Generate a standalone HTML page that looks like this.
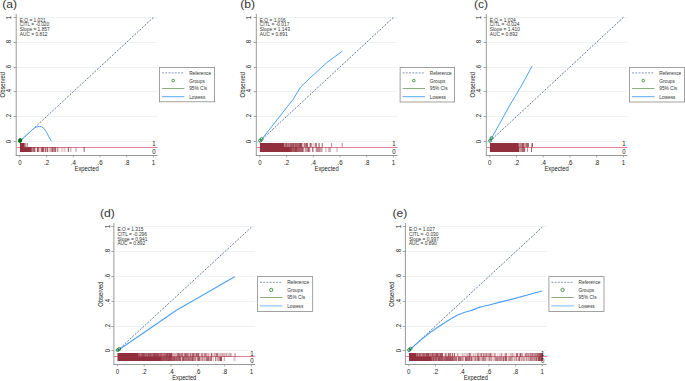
<!DOCTYPE html>
<html><head><meta charset="utf-8"><style>
html,body{margin:0;padding:0;background:#fff;}
svg{display:block;font-family:"Liberation Sans", sans-serif;}
</style></head><body>
<svg width="685" height="381" viewBox="0 0 685 381">
<rect width="685" height="381" fill="#fff"/>
<line x1="16.70" y1="141.50" x2="157.60" y2="141.50" stroke="#edf3f5" stroke-width="1"/>
<line x1="16.70" y1="116.50" x2="157.60" y2="116.50" stroke="#edf3f5" stroke-width="1"/>
<line x1="16.70" y1="91.50" x2="157.60" y2="91.50" stroke="#edf3f5" stroke-width="1"/>
<line x1="16.70" y1="67.50" x2="157.60" y2="67.50" stroke="#edf3f5" stroke-width="1"/>
<line x1="16.70" y1="42.50" x2="157.60" y2="42.50" stroke="#edf3f5" stroke-width="1"/>
<line x1="16.70" y1="17.50" x2="157.60" y2="17.50" stroke="#edf3f5" stroke-width="1"/>
<line x1="16.20" y1="147.50" x2="157.60" y2="147.50" stroke="#e07f95" stroke-width="1"/>
<rect x="19" y="143.20" width="1" height="3.80" fill="#922f3c" fill-opacity="0.08" shape-rendering="crispEdges"/>
<rect x="20" y="143.20" width="4" height="3.80" fill="#922f3c" fill-opacity="1.00" shape-rendering="crispEdges"/>
<rect x="24" y="143.20" width="1" height="3.80" fill="#922f3c" fill-opacity="0.74" shape-rendering="crispEdges"/>
<rect x="25" y="143.20" width="1" height="3.80" fill="#922f3c" fill-opacity="0.49" shape-rendering="crispEdges"/>
<rect x="26" y="143.20" width="1" height="3.80" fill="#922f3c" fill-opacity="0.32" shape-rendering="crispEdges"/>
<rect x="27" y="143.20" width="1" height="3.80" fill="#922f3c" fill-opacity="0.46" shape-rendering="crispEdges"/>
<rect x="19" y="147.00" width="1" height="4.70" fill="#922f3c" fill-opacity="0.08" shape-rendering="crispEdges"/>
<rect x="20" y="147.00" width="11" height="4.70" fill="#922f3c" fill-opacity="1.00" shape-rendering="crispEdges"/>
<rect x="31" y="147.00" width="1" height="4.70" fill="#922f3c" fill-opacity="0.80" shape-rendering="crispEdges"/>
<rect x="32" y="147.00" width="1" height="4.70" fill="#922f3c" fill-opacity="0.58" shape-rendering="crispEdges"/>
<rect x="33" y="147.00" width="1" height="4.70" fill="#922f3c" fill-opacity="0.69" shape-rendering="crispEdges"/>
<rect x="34" y="147.00" width="1" height="4.70" fill="#922f3c" fill-opacity="0.78" shape-rendering="crispEdges"/>
<rect x="35" y="147.00" width="1" height="4.70" fill="#922f3c" fill-opacity="0.32" shape-rendering="crispEdges"/>
<rect x="36" y="147.00" width="1" height="4.70" fill="#922f3c" fill-opacity="0.15" shape-rendering="crispEdges"/>
<rect x="37" y="147.00" width="1" height="4.70" fill="#922f3c" fill-opacity="0.84" shape-rendering="crispEdges"/>
<rect x="38" y="147.00" width="1" height="4.70" fill="#922f3c" fill-opacity="0.70" shape-rendering="crispEdges"/>
<rect x="39" y="147.00" width="1" height="4.70" fill="#922f3c" fill-opacity="0.27" shape-rendering="crispEdges"/>
<rect x="40" y="147.00" width="1" height="4.70" fill="#922f3c" fill-opacity="0.33" shape-rendering="crispEdges"/>
<rect x="41" y="147.00" width="1" height="4.70" fill="#922f3c" fill-opacity="0.68" shape-rendering="crispEdges"/>
<rect x="42" y="147.00" width="1" height="4.70" fill="#922f3c" fill-opacity="0.88" shape-rendering="crispEdges"/>
<rect x="43" y="147.00" width="1" height="4.70" fill="#922f3c" fill-opacity="0.77" shape-rendering="crispEdges"/>
<rect x="44" y="147.00" width="1" height="4.70" fill="#922f3c" fill-opacity="0.31" shape-rendering="crispEdges"/>
<rect x="45" y="147.00" width="1" height="4.70" fill="#922f3c" fill-opacity="0.75" shape-rendering="crispEdges"/>
<rect x="46" y="147.00" width="1" height="4.70" fill="#922f3c" fill-opacity="0.38" shape-rendering="crispEdges"/>
<rect x="47" y="147.00" width="1" height="4.70" fill="#922f3c" fill-opacity="0.77" shape-rendering="crispEdges"/>
<rect x="48" y="147.00" width="1" height="4.70" fill="#922f3c" fill-opacity="0.22" shape-rendering="crispEdges"/>
<rect x="49" y="147.00" width="1" height="4.70" fill="#922f3c" fill-opacity="0.30" shape-rendering="crispEdges"/>
<rect x="50" y="147.00" width="1" height="4.70" fill="#922f3c" fill-opacity="0.42" shape-rendering="crispEdges"/>
<rect x="51" y="147.00" width="1" height="4.70" fill="#922f3c" fill-opacity="0.51" shape-rendering="crispEdges"/>
<rect x="52" y="147.00" width="1" height="4.70" fill="#922f3c" fill-opacity="0.80" shape-rendering="crispEdges"/>
<rect x="53" y="147.00" width="1" height="4.70" fill="#922f3c" fill-opacity="0.55" shape-rendering="crispEdges"/>
<rect x="54" y="147.00" width="1" height="4.70" fill="#922f3c" fill-opacity="0.64" shape-rendering="crispEdges"/>
<rect x="55" y="147.00" width="1" height="4.70" fill="#922f3c" fill-opacity="0.75" shape-rendering="crispEdges"/>
<rect x="56" y="147.00" width="1" height="4.70" fill="#922f3c" fill-opacity="0.19" shape-rendering="crispEdges"/>
<rect x="57" y="147.00" width="1" height="4.70" fill="#922f3c" fill-opacity="0.48" shape-rendering="crispEdges"/>
<rect x="58" y="147.00" width="1" height="4.70" fill="#922f3c" fill-opacity="0.21" shape-rendering="crispEdges"/>
<rect x="59" y="147.00" width="1" height="4.70" fill="#922f3c" fill-opacity="0.11" shape-rendering="crispEdges"/>
<rect x="60" y="147.00" width="1" height="4.70" fill="#922f3c" fill-opacity="0.06" shape-rendering="crispEdges"/>
<rect x="61" y="147.00" width="1" height="4.70" fill="#922f3c" fill-opacity="0.24" shape-rendering="crispEdges"/>
<rect x="62" y="147.00" width="1" height="4.70" fill="#922f3c" fill-opacity="0.18" shape-rendering="crispEdges"/>
<rect x="63" y="147.00" width="1" height="4.70" fill="#922f3c" fill-opacity="0.16" shape-rendering="crispEdges"/>
<rect x="64" y="147.00" width="1" height="4.70" fill="#922f3c" fill-opacity="0.22" shape-rendering="crispEdges"/>
<rect x="65" y="147.00" width="1" height="4.70" fill="#922f3c" fill-opacity="0.19" shape-rendering="crispEdges"/>
<rect x="67" y="147.00" width="1" height="4.70" fill="#922f3c" fill-opacity="0.21" shape-rendering="crispEdges"/>
<rect x="68" y="147.00" width="1" height="4.70" fill="#922f3c" fill-opacity="0.71" shape-rendering="crispEdges"/>
<rect x="70" y="147.00" width="1" height="4.70" fill="#922f3c" fill-opacity="0.31" shape-rendering="crispEdges"/>
<rect x="71" y="147.00" width="1" height="4.70" fill="#922f3c" fill-opacity="0.17" shape-rendering="crispEdges"/>
<rect x="75" y="147.00" width="1" height="4.70" fill="#922f3c" fill-opacity="0.27" shape-rendering="crispEdges"/>
<rect x="76" y="147.00" width="1" height="4.70" fill="#922f3c" fill-opacity="0.26" shape-rendering="crispEdges"/>
<rect x="83" y="147.00" width="1" height="4.70" fill="#922f3c" fill-opacity="0.29" shape-rendering="crispEdges"/>
<rect x="84" y="147.00" width="1" height="4.70" fill="#922f3c" fill-opacity="0.51" shape-rendering="crispEdges"/>
<text transform="translate(153.95,145.80) scale(1,1.12)" font-size="6.1" text-anchor="middle" fill="#222">1</text>
<text transform="translate(153.95,153.60) scale(1,1.12)" font-size="6.1" text-anchor="middle" fill="#222">0</text>
<line x1="19.85" y1="141.30" x2="153.45" y2="17.35" stroke="#55698a" stroke-width="0.9" stroke-dasharray="2.0 1.4"/>
<polyline points="19.85,141.30 23.86,137.58 27.87,133.86 31.87,130.14 34.55,127.91 37.22,126.67 39.36,126.43 41.63,126.80 43.90,128.41 46.57,132.25 49.24,137.58 51.51,141.30" fill="none" stroke="#4ea1f6" stroke-width="1.0" stroke-linejoin="round"/>
<ellipse cx="20.15" cy="140.50" rx="2.1" ry="2.5" fill="#0b6b1c" transform="rotate(20 20.15 140.50)"/>
<line x1="16.20" y1="14.00" x2="16.20" y2="155.50" stroke="#999" stroke-width="1.0"/>
<line x1="15.70" y1="155.50" x2="157.60" y2="155.50" stroke="#999" stroke-width="1.0"/>
<line x1="13.60" y1="141.50" x2="16.20" y2="141.50" stroke="#909090" stroke-width="0.8"/>
<text transform="translate(11.40,141.50) rotate(-90) scale(1,1.12)" font-size="6.1" text-anchor="middle" fill="#222">0</text>
<line x1="13.60" y1="116.50" x2="16.20" y2="116.50" stroke="#909090" stroke-width="0.8"/>
<text transform="translate(11.40,116.50) rotate(-90) scale(1,1.12)" font-size="6.1" text-anchor="middle" fill="#222">.2</text>
<line x1="13.60" y1="91.50" x2="16.20" y2="91.50" stroke="#909090" stroke-width="0.8"/>
<text transform="translate(11.40,91.50) rotate(-90) scale(1,1.12)" font-size="6.1" text-anchor="middle" fill="#222">.4</text>
<line x1="13.60" y1="67.50" x2="16.20" y2="67.50" stroke="#909090" stroke-width="0.8"/>
<text transform="translate(11.40,67.50) rotate(-90) scale(1,1.12)" font-size="6.1" text-anchor="middle" fill="#222">.6</text>
<line x1="13.60" y1="42.50" x2="16.20" y2="42.50" stroke="#909090" stroke-width="0.8"/>
<text transform="translate(11.40,42.50) rotate(-90) scale(1,1.12)" font-size="6.1" text-anchor="middle" fill="#222">.8</text>
<line x1="13.60" y1="17.50" x2="16.20" y2="17.50" stroke="#909090" stroke-width="0.8"/>
<text transform="translate(11.40,17.50) rotate(-90) scale(1,1.12)" font-size="6.1" text-anchor="middle" fill="#222">1</text>
<line x1="19.85" y1="155.50" x2="19.85" y2="157.40" stroke="#909090" stroke-width="0.8"/>
<text transform="translate(19.85,165.00) scale(1,1.12)" font-size="6.1" text-anchor="middle" fill="#222">0</text>
<line x1="46.57" y1="155.50" x2="46.57" y2="157.40" stroke="#909090" stroke-width="0.8"/>
<text transform="translate(46.57,165.00) scale(1,1.12)" font-size="6.1" text-anchor="middle" fill="#222">.2</text>
<line x1="73.29" y1="155.50" x2="73.29" y2="157.40" stroke="#909090" stroke-width="0.8"/>
<text transform="translate(73.29,165.00) scale(1,1.12)" font-size="6.1" text-anchor="middle" fill="#222">.4</text>
<line x1="100.01" y1="155.50" x2="100.01" y2="157.40" stroke="#909090" stroke-width="0.8"/>
<text transform="translate(100.01,165.00) scale(1,1.12)" font-size="6.1" text-anchor="middle" fill="#222">.6</text>
<line x1="126.73" y1="155.50" x2="126.73" y2="157.40" stroke="#909090" stroke-width="0.8"/>
<text transform="translate(126.73,165.00) scale(1,1.12)" font-size="6.1" text-anchor="middle" fill="#222">.8</text>
<line x1="153.45" y1="155.50" x2="153.45" y2="157.40" stroke="#909090" stroke-width="0.8"/>
<text transform="translate(153.45,165.00) scale(1,1.12)" font-size="6.1" text-anchor="middle" fill="#222">1</text>
<text transform="translate(86.60,170.60) scale(0.88,1)" font-size="6.6" text-anchor="middle" fill="#222">Expected</text>
<text transform="translate(5.00,84.75) rotate(-90) scale(0.9,1)" font-size="6.5" text-anchor="middle" fill="#222">Observed</text>
<text x="19.70" y="21.75" font-size="4.85" fill="#333">E:O = 1.021</text>
<text x="19.70" y="26.45" font-size="4.85" fill="#333">CITL = -0.020</text>
<text x="19.70" y="31.15" font-size="4.85" fill="#333">Slope = 1.857</text>
<text x="19.70" y="35.85" font-size="4.85" fill="#333">AUC = 0.812</text>
<text transform="translate(2.30,7.90) scale(1.05,1)" font-size="11.5" fill="#333">(a)</text>
<rect x="159.50" y="67.50" width="55.10" height="34.30" fill="#fff" stroke="#8a8a8a" stroke-width="0.8"/>
<line x1="162.00" y1="72.90" x2="184.40" y2="72.90" stroke="#6a80a0" stroke-width="0.8" stroke-dasharray="2 1.2"/>
<circle cx="173.20" cy="80.60" r="1.3" fill="none" stroke="#2e8b3a" stroke-width="0.9"/>
<line x1="162.00" y1="88.50" x2="184.40" y2="88.50" stroke="#6e9a5a" stroke-width="0.8"/>
<line x1="162.00" y1="96.70" x2="184.40" y2="96.70" stroke="#4a9ef5" stroke-width="0.9"/>
<text x="189.20" y="74.80" font-size="4.75" fill="#333">Reference</text>
<text x="189.20" y="82.50" font-size="4.75" fill="#333">Groups</text>
<text x="189.20" y="90.40" font-size="4.75" fill="#333">95% CIs</text>
<text x="189.20" y="98.60" font-size="4.75" fill="#333">Lowess</text>
<line x1="256.80" y1="141.50" x2="397.60" y2="141.50" stroke="#edf3f5" stroke-width="1"/>
<line x1="256.80" y1="116.50" x2="397.60" y2="116.50" stroke="#edf3f5" stroke-width="1"/>
<line x1="256.80" y1="91.50" x2="397.60" y2="91.50" stroke="#edf3f5" stroke-width="1"/>
<line x1="256.80" y1="67.50" x2="397.60" y2="67.50" stroke="#edf3f5" stroke-width="1"/>
<line x1="256.80" y1="42.50" x2="397.60" y2="42.50" stroke="#edf3f5" stroke-width="1"/>
<line x1="256.80" y1="17.50" x2="397.60" y2="17.50" stroke="#edf3f5" stroke-width="1"/>
<line x1="256.30" y1="147.50" x2="397.60" y2="147.50" stroke="#e07f95" stroke-width="1"/>
<rect x="259" y="143.20" width="1" height="3.80" fill="#922f3c" fill-opacity="0.07" shape-rendering="crispEdges"/>
<rect x="260" y="143.20" width="23" height="3.80" fill="#922f3c" fill-opacity="1.00" shape-rendering="crispEdges"/>
<rect x="283" y="143.20" width="1" height="3.80" fill="#922f3c" fill-opacity="0.96" shape-rendering="crispEdges"/>
<rect x="284" y="143.20" width="1" height="3.80" fill="#922f3c" fill-opacity="0.64" shape-rendering="crispEdges"/>
<rect x="285" y="143.20" width="1" height="3.80" fill="#922f3c" fill-opacity="0.73" shape-rendering="crispEdges"/>
<rect x="286" y="143.20" width="1" height="3.80" fill="#922f3c" fill-opacity="0.83" shape-rendering="crispEdges"/>
<rect x="287" y="143.20" width="1" height="3.80" fill="#922f3c" fill-opacity="0.65" shape-rendering="crispEdges"/>
<rect x="288" y="143.20" width="1" height="3.80" fill="#922f3c" fill-opacity="0.75" shape-rendering="crispEdges"/>
<rect x="289" y="143.20" width="1" height="3.80" fill="#922f3c" fill-opacity="0.61" shape-rendering="crispEdges"/>
<rect x="290" y="143.20" width="1" height="3.80" fill="#922f3c" fill-opacity="0.80" shape-rendering="crispEdges"/>
<rect x="291" y="143.20" width="1" height="3.80" fill="#922f3c" fill-opacity="0.83" shape-rendering="crispEdges"/>
<rect x="292" y="143.20" width="1" height="3.80" fill="#922f3c" fill-opacity="0.77" shape-rendering="crispEdges"/>
<rect x="293" y="143.20" width="1" height="3.80" fill="#922f3c" fill-opacity="0.86" shape-rendering="crispEdges"/>
<rect x="294" y="143.20" width="1" height="3.80" fill="#922f3c" fill-opacity="0.69" shape-rendering="crispEdges"/>
<rect x="295" y="143.20" width="1" height="3.80" fill="#922f3c" fill-opacity="0.81" shape-rendering="crispEdges"/>
<rect x="296" y="143.20" width="2" height="3.80" fill="#922f3c" fill-opacity="0.78" shape-rendering="crispEdges"/>
<rect x="298" y="143.20" width="1" height="3.80" fill="#922f3c" fill-opacity="0.74" shape-rendering="crispEdges"/>
<rect x="299" y="143.20" width="1" height="3.80" fill="#922f3c" fill-opacity="0.85" shape-rendering="crispEdges"/>
<rect x="300" y="143.20" width="1" height="3.80" fill="#922f3c" fill-opacity="0.93" shape-rendering="crispEdges"/>
<rect x="301" y="143.20" width="1" height="3.80" fill="#922f3c" fill-opacity="0.85" shape-rendering="crispEdges"/>
<rect x="302" y="143.20" width="1" height="3.80" fill="#922f3c" fill-opacity="0.36" shape-rendering="crispEdges"/>
<rect x="303" y="143.20" width="1" height="3.80" fill="#922f3c" fill-opacity="0.31" shape-rendering="crispEdges"/>
<rect x="304" y="143.20" width="1" height="3.80" fill="#922f3c" fill-opacity="0.66" shape-rendering="crispEdges"/>
<rect x="305" y="143.20" width="1" height="3.80" fill="#922f3c" fill-opacity="0.63" shape-rendering="crispEdges"/>
<rect x="306" y="143.20" width="1" height="3.80" fill="#922f3c" fill-opacity="0.82" shape-rendering="crispEdges"/>
<rect x="307" y="143.20" width="1" height="3.80" fill="#922f3c" fill-opacity="0.72" shape-rendering="crispEdges"/>
<rect x="309" y="143.20" width="1" height="3.80" fill="#922f3c" fill-opacity="0.30" shape-rendering="crispEdges"/>
<rect x="310" y="143.20" width="1" height="3.80" fill="#922f3c" fill-opacity="0.77" shape-rendering="crispEdges"/>
<rect x="311" y="143.20" width="1" height="3.80" fill="#922f3c" fill-opacity="0.48" shape-rendering="crispEdges"/>
<rect x="312" y="143.20" width="1" height="3.80" fill="#922f3c" fill-opacity="0.17" shape-rendering="crispEdges"/>
<rect x="313" y="143.20" width="1" height="3.80" fill="#922f3c" fill-opacity="0.19" shape-rendering="crispEdges"/>
<rect x="314" y="143.20" width="1" height="3.80" fill="#922f3c" fill-opacity="0.23" shape-rendering="crispEdges"/>
<rect x="315" y="143.20" width="1" height="3.80" fill="#922f3c" fill-opacity="0.64" shape-rendering="crispEdges"/>
<rect x="316" y="143.20" width="1" height="3.80" fill="#922f3c" fill-opacity="0.62" shape-rendering="crispEdges"/>
<rect x="318" y="143.20" width="1" height="3.80" fill="#922f3c" fill-opacity="0.43" shape-rendering="crispEdges"/>
<rect x="319" y="143.20" width="1" height="3.80" fill="#922f3c" fill-opacity="0.49" shape-rendering="crispEdges"/>
<rect x="321" y="143.20" width="1" height="3.80" fill="#922f3c" fill-opacity="0.21" shape-rendering="crispEdges"/>
<rect x="322" y="143.20" width="1" height="3.80" fill="#922f3c" fill-opacity="0.55" shape-rendering="crispEdges"/>
<rect x="331" y="143.20" width="1" height="3.80" fill="#922f3c" fill-opacity="0.51" shape-rendering="crispEdges"/>
<rect x="332" y="143.20" width="1" height="3.80" fill="#922f3c" fill-opacity="0.09" shape-rendering="crispEdges"/>
<rect x="341" y="143.20" width="1" height="3.80" fill="#922f3c" fill-opacity="0.19" shape-rendering="crispEdges"/>
<rect x="342" y="143.20" width="1" height="3.80" fill="#922f3c" fill-opacity="0.42" shape-rendering="crispEdges"/>
<rect x="259" y="147.00" width="1" height="4.70" fill="#922f3c" fill-opacity="0.15" shape-rendering="crispEdges"/>
<rect x="260" y="147.00" width="30" height="4.70" fill="#922f3c" fill-opacity="1.00" shape-rendering="crispEdges"/>
<rect x="290" y="147.00" width="1" height="4.70" fill="#922f3c" fill-opacity="0.93" shape-rendering="crispEdges"/>
<rect x="291" y="147.00" width="1" height="4.70" fill="#922f3c" fill-opacity="0.92" shape-rendering="crispEdges"/>
<rect x="292" y="147.00" width="1" height="4.70" fill="#922f3c" fill-opacity="0.81" shape-rendering="crispEdges"/>
<rect x="293" y="147.00" width="1" height="4.70" fill="#922f3c" fill-opacity="0.83" shape-rendering="crispEdges"/>
<rect x="294" y="147.00" width="1" height="4.70" fill="#922f3c" fill-opacity="0.82" shape-rendering="crispEdges"/>
<rect x="295" y="147.00" width="1" height="4.70" fill="#922f3c" fill-opacity="0.92" shape-rendering="crispEdges"/>
<rect x="296" y="147.00" width="1" height="4.70" fill="#922f3c" fill-opacity="0.93" shape-rendering="crispEdges"/>
<rect x="297" y="147.00" width="2" height="4.70" fill="#922f3c" fill-opacity="0.79" shape-rendering="crispEdges"/>
<rect x="299" y="147.00" width="1" height="4.70" fill="#922f3c" fill-opacity="0.80" shape-rendering="crispEdges"/>
<rect x="300" y="147.00" width="1" height="4.70" fill="#922f3c" fill-opacity="0.74" shape-rendering="crispEdges"/>
<rect x="301" y="147.00" width="1" height="4.70" fill="#922f3c" fill-opacity="0.80" shape-rendering="crispEdges"/>
<rect x="302" y="147.00" width="1" height="4.70" fill="#922f3c" fill-opacity="0.82" shape-rendering="crispEdges"/>
<rect x="303" y="147.00" width="1" height="4.70" fill="#922f3c" fill-opacity="0.55" shape-rendering="crispEdges"/>
<rect x="304" y="147.00" width="1" height="4.70" fill="#922f3c" fill-opacity="0.20" shape-rendering="crispEdges"/>
<rect x="305" y="147.00" width="2" height="4.70" fill="#922f3c" fill-opacity="0.48" shape-rendering="crispEdges"/>
<rect x="307" y="147.00" width="1" height="4.70" fill="#922f3c" fill-opacity="0.59" shape-rendering="crispEdges"/>
<rect x="308" y="147.00" width="1" height="4.70" fill="#922f3c" fill-opacity="0.79" shape-rendering="crispEdges"/>
<rect x="309" y="147.00" width="1" height="4.70" fill="#922f3c" fill-opacity="0.58" shape-rendering="crispEdges"/>
<rect x="310" y="147.00" width="1" height="4.70" fill="#922f3c" fill-opacity="0.20" shape-rendering="crispEdges"/>
<rect x="312" y="147.00" width="1" height="4.70" fill="#922f3c" fill-opacity="0.66" shape-rendering="crispEdges"/>
<rect x="313" y="147.00" width="1" height="4.70" fill="#922f3c" fill-opacity="0.36" shape-rendering="crispEdges"/>
<rect x="315" y="147.00" width="1" height="4.70" fill="#922f3c" fill-opacity="0.19" shape-rendering="crispEdges"/>
<rect x="316" y="147.00" width="1" height="4.70" fill="#922f3c" fill-opacity="0.59" shape-rendering="crispEdges"/>
<rect x="317" y="147.00" width="1" height="4.70" fill="#922f3c" fill-opacity="0.53" shape-rendering="crispEdges"/>
<rect x="318" y="147.00" width="1" height="4.70" fill="#922f3c" fill-opacity="0.58" shape-rendering="crispEdges"/>
<rect x="319" y="147.00" width="1" height="4.70" fill="#922f3c" fill-opacity="0.54" shape-rendering="crispEdges"/>
<rect x="320" y="147.00" width="2" height="4.70" fill="#922f3c" fill-opacity="0.44" shape-rendering="crispEdges"/>
<rect x="322" y="147.00" width="1" height="4.70" fill="#922f3c" fill-opacity="0.26" shape-rendering="crispEdges"/>
<rect x="325" y="147.00" width="1" height="4.70" fill="#922f3c" fill-opacity="0.23" shape-rendering="crispEdges"/>
<rect x="326" y="147.00" width="1" height="4.70" fill="#922f3c" fill-opacity="0.19" shape-rendering="crispEdges"/>
<rect x="328" y="147.00" width="1" height="4.70" fill="#922f3c" fill-opacity="0.32" shape-rendering="crispEdges"/>
<rect x="329" y="147.00" width="1" height="4.70" fill="#922f3c" fill-opacity="0.39" shape-rendering="crispEdges"/>
<rect x="330" y="147.00" width="1" height="4.70" fill="#922f3c" fill-opacity="0.37" shape-rendering="crispEdges"/>
<rect x="336" y="147.00" width="1" height="4.70" fill="#922f3c" fill-opacity="0.20" shape-rendering="crispEdges"/>
<rect x="337" y="147.00" width="1" height="4.70" fill="#922f3c" fill-opacity="0.23" shape-rendering="crispEdges"/>
<text transform="translate(393.95,145.80) scale(1,1.12)" font-size="6.1" text-anchor="middle" fill="#222">1</text>
<text transform="translate(393.95,153.60) scale(1,1.12)" font-size="6.1" text-anchor="middle" fill="#222">0</text>
<line x1="259.85" y1="141.30" x2="393.45" y2="17.35" stroke="#55698a" stroke-width="0.9" stroke-dasharray="2.0 1.4"/>
<polyline points="259.85,141.30 262.39,138.57 273.21,124.69 286.30,107.96 292.72,100.02 300.60,87.01 309.15,78.83 326.25,63.09 342.41,51.06" fill="none" stroke="#4ea1f6" stroke-width="1.0" stroke-linejoin="round"/>
<circle cx="260.15" cy="140.70" r="1.5" fill="none" stroke="#1a7a2a" stroke-width="0.85"/>
<circle cx="261.62" cy="139.12" r="1.5" fill="none" stroke="#1a7a2a" stroke-width="0.85"/>
<line x1="256.30" y1="14.00" x2="256.30" y2="155.50" stroke="#999" stroke-width="1.0"/>
<line x1="255.80" y1="155.50" x2="397.60" y2="155.50" stroke="#999" stroke-width="1.0"/>
<line x1="253.70" y1="141.50" x2="256.30" y2="141.50" stroke="#909090" stroke-width="0.8"/>
<text transform="translate(251.40,141.50) rotate(-90) scale(1,1.12)" font-size="6.1" text-anchor="middle" fill="#222">0</text>
<line x1="253.70" y1="116.50" x2="256.30" y2="116.50" stroke="#909090" stroke-width="0.8"/>
<text transform="translate(251.40,116.50) rotate(-90) scale(1,1.12)" font-size="6.1" text-anchor="middle" fill="#222">.2</text>
<line x1="253.70" y1="91.50" x2="256.30" y2="91.50" stroke="#909090" stroke-width="0.8"/>
<text transform="translate(251.40,91.50) rotate(-90) scale(1,1.12)" font-size="6.1" text-anchor="middle" fill="#222">.4</text>
<line x1="253.70" y1="67.50" x2="256.30" y2="67.50" stroke="#909090" stroke-width="0.8"/>
<text transform="translate(251.40,67.50) rotate(-90) scale(1,1.12)" font-size="6.1" text-anchor="middle" fill="#222">.6</text>
<line x1="253.70" y1="42.50" x2="256.30" y2="42.50" stroke="#909090" stroke-width="0.8"/>
<text transform="translate(251.40,42.50) rotate(-90) scale(1,1.12)" font-size="6.1" text-anchor="middle" fill="#222">.8</text>
<line x1="253.70" y1="17.50" x2="256.30" y2="17.50" stroke="#909090" stroke-width="0.8"/>
<text transform="translate(251.40,17.50) rotate(-90) scale(1,1.12)" font-size="6.1" text-anchor="middle" fill="#222">1</text>
<line x1="259.85" y1="155.50" x2="259.85" y2="157.40" stroke="#909090" stroke-width="0.8"/>
<text transform="translate(259.85,165.00) scale(1,1.12)" font-size="6.1" text-anchor="middle" fill="#222">0</text>
<line x1="286.57" y1="155.50" x2="286.57" y2="157.40" stroke="#909090" stroke-width="0.8"/>
<text transform="translate(286.57,165.00) scale(1,1.12)" font-size="6.1" text-anchor="middle" fill="#222">.2</text>
<line x1="313.29" y1="155.50" x2="313.29" y2="157.40" stroke="#909090" stroke-width="0.8"/>
<text transform="translate(313.29,165.00) scale(1,1.12)" font-size="6.1" text-anchor="middle" fill="#222">.4</text>
<line x1="340.01" y1="155.50" x2="340.01" y2="157.40" stroke="#909090" stroke-width="0.8"/>
<text transform="translate(340.01,165.00) scale(1,1.12)" font-size="6.1" text-anchor="middle" fill="#222">.6</text>
<line x1="366.73" y1="155.50" x2="366.73" y2="157.40" stroke="#909090" stroke-width="0.8"/>
<text transform="translate(366.73,165.00) scale(1,1.12)" font-size="6.1" text-anchor="middle" fill="#222">.8</text>
<line x1="393.45" y1="155.50" x2="393.45" y2="157.40" stroke="#909090" stroke-width="0.8"/>
<text transform="translate(393.45,165.00) scale(1,1.12)" font-size="6.1" text-anchor="middle" fill="#222">1</text>
<text transform="translate(326.65,170.60) scale(0.88,1)" font-size="6.6" text-anchor="middle" fill="#222">Expected</text>
<text transform="translate(245.10,84.75) rotate(-90) scale(0.9,1)" font-size="6.5" text-anchor="middle" fill="#222">Observed</text>
<text x="259.80" y="21.75" font-size="4.85" fill="#333">E:O = 1.016</text>
<text x="259.80" y="26.45" font-size="4.85" fill="#333">CITL = -0.017</text>
<text x="259.80" y="31.15" font-size="4.85" fill="#333">Slope = 1.143</text>
<text x="259.80" y="35.85" font-size="4.85" fill="#333">AUC = 0.891</text>
<text transform="translate(240.30,7.90) scale(1.05,1)" font-size="11.5" fill="#333">(b)</text>
<rect x="400.10" y="67.50" width="54.50" height="34.50" fill="#fff" stroke="#8a8a8a" stroke-width="0.8"/>
<line x1="402.60" y1="72.90" x2="425.00" y2="72.90" stroke="#6a80a0" stroke-width="0.8" stroke-dasharray="2 1.2"/>
<circle cx="413.80" cy="80.60" r="1.3" fill="none" stroke="#2e8b3a" stroke-width="0.9"/>
<line x1="402.60" y1="88.50" x2="425.00" y2="88.50" stroke="#6e9a5a" stroke-width="0.8"/>
<line x1="402.60" y1="96.70" x2="425.00" y2="96.70" stroke="#4a9ef5" stroke-width="0.9"/>
<text x="429.80" y="74.80" font-size="4.75" fill="#333">Reference</text>
<text x="429.80" y="82.50" font-size="4.75" fill="#333">Groups</text>
<text x="429.80" y="90.40" font-size="4.75" fill="#333">95% CIs</text>
<text x="429.80" y="98.60" font-size="4.75" fill="#333">Lowess</text>
<line x1="486.80" y1="141.50" x2="627.40" y2="141.50" stroke="#edf3f5" stroke-width="1"/>
<line x1="486.80" y1="116.50" x2="627.40" y2="116.50" stroke="#edf3f5" stroke-width="1"/>
<line x1="486.80" y1="91.50" x2="627.40" y2="91.50" stroke="#edf3f5" stroke-width="1"/>
<line x1="486.80" y1="67.50" x2="627.40" y2="67.50" stroke="#edf3f5" stroke-width="1"/>
<line x1="486.80" y1="42.50" x2="627.40" y2="42.50" stroke="#edf3f5" stroke-width="1"/>
<line x1="486.80" y1="17.50" x2="627.40" y2="17.50" stroke="#edf3f5" stroke-width="1"/>
<line x1="486.30" y1="147.50" x2="627.40" y2="147.50" stroke="#e07f95" stroke-width="1"/>
<rect x="489" y="143.20" width="1" height="3.80" fill="#922f3c" fill-opacity="0.04" shape-rendering="crispEdges"/>
<rect x="490" y="143.20" width="28" height="3.80" fill="#922f3c" fill-opacity="1.00" shape-rendering="crispEdges"/>
<rect x="518" y="143.20" width="1" height="3.80" fill="#922f3c" fill-opacity="0.79" shape-rendering="crispEdges"/>
<rect x="519" y="143.20" width="1" height="3.80" fill="#922f3c" fill-opacity="0.56" shape-rendering="crispEdges"/>
<rect x="520" y="143.20" width="1" height="3.80" fill="#922f3c" fill-opacity="0.65" shape-rendering="crispEdges"/>
<rect x="521" y="143.20" width="1" height="3.80" fill="#922f3c" fill-opacity="0.59" shape-rendering="crispEdges"/>
<rect x="522" y="143.20" width="1" height="3.80" fill="#922f3c" fill-opacity="0.88" shape-rendering="crispEdges"/>
<rect x="523" y="143.20" width="1" height="3.80" fill="#922f3c" fill-opacity="0.81" shape-rendering="crispEdges"/>
<rect x="524" y="143.20" width="1" height="3.80" fill="#922f3c" fill-opacity="0.45" shape-rendering="crispEdges"/>
<rect x="525" y="143.20" width="1" height="3.80" fill="#922f3c" fill-opacity="0.51" shape-rendering="crispEdges"/>
<rect x="526" y="143.20" width="2" height="3.80" fill="#922f3c" fill-opacity="0.76" shape-rendering="crispEdges"/>
<rect x="528" y="143.20" width="1" height="3.80" fill="#922f3c" fill-opacity="0.71" shape-rendering="crispEdges"/>
<rect x="531" y="143.20" width="1" height="3.80" fill="#922f3c" fill-opacity="0.39" shape-rendering="crispEdges"/>
<rect x="532" y="143.20" width="1" height="3.80" fill="#922f3c" fill-opacity="0.82" shape-rendering="crispEdges"/>
<rect x="489" y="147.00" width="1" height="4.70" fill="#922f3c" fill-opacity="0.10" shape-rendering="crispEdges"/>
<rect x="490" y="147.00" width="29" height="4.70" fill="#922f3c" fill-opacity="1.00" shape-rendering="crispEdges"/>
<rect x="519" y="147.00" width="1" height="4.70" fill="#922f3c" fill-opacity="0.49" shape-rendering="crispEdges"/>
<rect x="520" y="147.00" width="1" height="4.70" fill="#922f3c" fill-opacity="0.55" shape-rendering="crispEdges"/>
<rect x="521" y="147.00" width="1" height="4.70" fill="#922f3c" fill-opacity="0.56" shape-rendering="crispEdges"/>
<rect x="522" y="147.00" width="1" height="4.70" fill="#922f3c" fill-opacity="0.76" shape-rendering="crispEdges"/>
<rect x="523" y="147.00" width="1" height="4.70" fill="#922f3c" fill-opacity="0.74" shape-rendering="crispEdges"/>
<rect x="524" y="147.00" width="1" height="4.70" fill="#922f3c" fill-opacity="0.77" shape-rendering="crispEdges"/>
<rect x="525" y="147.00" width="1" height="4.70" fill="#922f3c" fill-opacity="0.13" shape-rendering="crispEdges"/>
<rect x="527" y="147.00" width="1" height="4.70" fill="#922f3c" fill-opacity="0.53" shape-rendering="crispEdges"/>
<rect x="531" y="147.00" width="1" height="4.70" fill="#922f3c" fill-opacity="0.77" shape-rendering="crispEdges"/>
<text transform="translate(623.90,145.80) scale(1,1.12)" font-size="6.1" text-anchor="middle" fill="#222">1</text>
<text transform="translate(623.90,153.60) scale(1,1.12)" font-size="6.1" text-anchor="middle" fill="#222">0</text>
<line x1="489.80" y1="141.30" x2="623.40" y2="17.35" stroke="#55698a" stroke-width="0.9" stroke-dasharray="2.0 1.4"/>
<polyline points="489.80,141.30 499.15,124.57 509.84,105.23 521.80,85.03 532.15,66.06" fill="none" stroke="#4ea1f6" stroke-width="1.0" stroke-linejoin="round"/>
<circle cx="490.10" cy="140.70" r="1.5" fill="none" stroke="#1a7a2a" stroke-width="0.85"/>
<circle cx="491.57" cy="138.07" r="1.5" fill="none" stroke="#1a7a2a" stroke-width="0.85"/>
<line x1="486.30" y1="14.00" x2="486.30" y2="155.50" stroke="#999" stroke-width="1.0"/>
<line x1="485.80" y1="155.50" x2="627.40" y2="155.50" stroke="#999" stroke-width="1.0"/>
<line x1="483.70" y1="141.50" x2="486.30" y2="141.50" stroke="#909090" stroke-width="0.8"/>
<text transform="translate(481.40,141.50) rotate(-90) scale(1,1.12)" font-size="6.1" text-anchor="middle" fill="#222">0</text>
<line x1="483.70" y1="116.50" x2="486.30" y2="116.50" stroke="#909090" stroke-width="0.8"/>
<text transform="translate(481.40,116.50) rotate(-90) scale(1,1.12)" font-size="6.1" text-anchor="middle" fill="#222">.2</text>
<line x1="483.70" y1="91.50" x2="486.30" y2="91.50" stroke="#909090" stroke-width="0.8"/>
<text transform="translate(481.40,91.50) rotate(-90) scale(1,1.12)" font-size="6.1" text-anchor="middle" fill="#222">.4</text>
<line x1="483.70" y1="67.50" x2="486.30" y2="67.50" stroke="#909090" stroke-width="0.8"/>
<text transform="translate(481.40,67.50) rotate(-90) scale(1,1.12)" font-size="6.1" text-anchor="middle" fill="#222">.6</text>
<line x1="483.70" y1="42.50" x2="486.30" y2="42.50" stroke="#909090" stroke-width="0.8"/>
<text transform="translate(481.40,42.50) rotate(-90) scale(1,1.12)" font-size="6.1" text-anchor="middle" fill="#222">.8</text>
<line x1="483.70" y1="17.50" x2="486.30" y2="17.50" stroke="#909090" stroke-width="0.8"/>
<text transform="translate(481.40,17.50) rotate(-90) scale(1,1.12)" font-size="6.1" text-anchor="middle" fill="#222">1</text>
<line x1="489.80" y1="155.50" x2="489.80" y2="157.40" stroke="#909090" stroke-width="0.8"/>
<text transform="translate(489.80,165.00) scale(1,1.12)" font-size="6.1" text-anchor="middle" fill="#222">0</text>
<line x1="516.52" y1="155.50" x2="516.52" y2="157.40" stroke="#909090" stroke-width="0.8"/>
<text transform="translate(516.52,165.00) scale(1,1.12)" font-size="6.1" text-anchor="middle" fill="#222">.2</text>
<line x1="543.24" y1="155.50" x2="543.24" y2="157.40" stroke="#909090" stroke-width="0.8"/>
<text transform="translate(543.24,165.00) scale(1,1.12)" font-size="6.1" text-anchor="middle" fill="#222">.4</text>
<line x1="569.96" y1="155.50" x2="569.96" y2="157.40" stroke="#909090" stroke-width="0.8"/>
<text transform="translate(569.96,165.00) scale(1,1.12)" font-size="6.1" text-anchor="middle" fill="#222">.6</text>
<line x1="596.68" y1="155.50" x2="596.68" y2="157.40" stroke="#909090" stroke-width="0.8"/>
<text transform="translate(596.68,165.00) scale(1,1.12)" font-size="6.1" text-anchor="middle" fill="#222">.8</text>
<line x1="623.40" y1="155.50" x2="623.40" y2="157.40" stroke="#909090" stroke-width="0.8"/>
<text transform="translate(623.40,165.00) scale(1,1.12)" font-size="6.1" text-anchor="middle" fill="#222">1</text>
<text transform="translate(556.55,170.60) scale(0.88,1)" font-size="6.6" text-anchor="middle" fill="#222">Expected</text>
<text transform="translate(475.10,84.75) rotate(-90) scale(0.9,1)" font-size="6.5" text-anchor="middle" fill="#222">Observed</text>
<text x="489.80" y="21.75" font-size="4.85" fill="#333">E:O = 1.024</text>
<text x="489.80" y="26.45" font-size="4.85" fill="#333">CITL = -0.024</text>
<text x="489.80" y="31.15" font-size="4.85" fill="#333">Slope = 1.410</text>
<text x="489.80" y="35.85" font-size="4.85" fill="#333">AUC = 0.892</text>
<text transform="translate(474.00,7.90) scale(1.05,1)" font-size="11.5" fill="#333">(c)</text>
<rect x="629.60" y="67.50" width="54.80" height="34.50" fill="#fff" stroke="#8a8a8a" stroke-width="0.8"/>
<line x1="632.10" y1="72.90" x2="654.50" y2="72.90" stroke="#6a80a0" stroke-width="0.8" stroke-dasharray="2 1.2"/>
<circle cx="643.30" cy="80.60" r="1.3" fill="none" stroke="#2e8b3a" stroke-width="0.9"/>
<line x1="632.10" y1="88.50" x2="654.50" y2="88.50" stroke="#6e9a5a" stroke-width="0.8"/>
<line x1="632.10" y1="96.70" x2="654.50" y2="96.70" stroke="#4a9ef5" stroke-width="0.9"/>
<text x="659.30" y="74.80" font-size="4.75" fill="#333">Reference</text>
<text x="659.30" y="82.50" font-size="4.75" fill="#333">Groups</text>
<text x="659.30" y="90.40" font-size="4.75" fill="#333">95% CIs</text>
<text x="659.30" y="98.60" font-size="4.75" fill="#333">Lowess</text>
<line x1="114.40" y1="350.50" x2="255.20" y2="350.50" stroke="#edf3f5" stroke-width="1"/>
<line x1="114.40" y1="326.50" x2="255.20" y2="326.50" stroke="#edf3f5" stroke-width="1"/>
<line x1="114.40" y1="301.50" x2="255.20" y2="301.50" stroke="#edf3f5" stroke-width="1"/>
<line x1="114.40" y1="276.50" x2="255.20" y2="276.50" stroke="#edf3f5" stroke-width="1"/>
<line x1="114.40" y1="251.50" x2="255.20" y2="251.50" stroke="#edf3f5" stroke-width="1"/>
<line x1="114.40" y1="226.50" x2="255.20" y2="226.50" stroke="#edf3f5" stroke-width="1"/>
<line x1="113.90" y1="356.50" x2="255.20" y2="356.50" stroke="#e07f95" stroke-width="1"/>
<rect x="117" y="353.10" width="1" height="3.90" fill="#922f3c" fill-opacity="0.52" shape-rendering="crispEdges"/>
<rect x="118" y="353.10" width="20" height="3.90" fill="#922f3c" fill-opacity="1.00" shape-rendering="crispEdges"/>
<rect x="138" y="353.10" width="1" height="3.90" fill="#922f3c" fill-opacity="0.80" shape-rendering="crispEdges"/>
<rect x="139" y="353.10" width="1" height="3.90" fill="#922f3c" fill-opacity="0.81" shape-rendering="crispEdges"/>
<rect x="140" y="353.10" width="1" height="3.90" fill="#922f3c" fill-opacity="0.69" shape-rendering="crispEdges"/>
<rect x="141" y="353.10" width="1" height="3.90" fill="#922f3c" fill-opacity="0.81" shape-rendering="crispEdges"/>
<rect x="142" y="353.10" width="1" height="3.90" fill="#922f3c" fill-opacity="0.91" shape-rendering="crispEdges"/>
<rect x="143" y="353.10" width="1" height="3.90" fill="#922f3c" fill-opacity="0.89" shape-rendering="crispEdges"/>
<rect x="144" y="353.10" width="1" height="3.90" fill="#922f3c" fill-opacity="0.85" shape-rendering="crispEdges"/>
<rect x="145" y="353.10" width="1" height="3.90" fill="#922f3c" fill-opacity="0.74" shape-rendering="crispEdges"/>
<rect x="146" y="353.10" width="1" height="3.90" fill="#922f3c" fill-opacity="0.77" shape-rendering="crispEdges"/>
<rect x="147" y="353.10" width="1" height="3.90" fill="#922f3c" fill-opacity="0.72" shape-rendering="crispEdges"/>
<rect x="148" y="353.10" width="1" height="3.90" fill="#922f3c" fill-opacity="0.87" shape-rendering="crispEdges"/>
<rect x="149" y="353.10" width="1" height="3.90" fill="#922f3c" fill-opacity="0.81" shape-rendering="crispEdges"/>
<rect x="150" y="353.10" width="1" height="3.90" fill="#922f3c" fill-opacity="0.87" shape-rendering="crispEdges"/>
<rect x="151" y="353.10" width="1" height="3.90" fill="#922f3c" fill-opacity="0.76" shape-rendering="crispEdges"/>
<rect x="152" y="353.10" width="1" height="3.90" fill="#922f3c" fill-opacity="0.73" shape-rendering="crispEdges"/>
<rect x="153" y="353.10" width="1" height="3.90" fill="#922f3c" fill-opacity="0.87" shape-rendering="crispEdges"/>
<rect x="154" y="353.10" width="1" height="3.90" fill="#922f3c" fill-opacity="0.92" shape-rendering="crispEdges"/>
<rect x="155" y="353.10" width="1" height="3.90" fill="#922f3c" fill-opacity="0.88" shape-rendering="crispEdges"/>
<rect x="156" y="353.10" width="2" height="3.90" fill="#922f3c" fill-opacity="0.87" shape-rendering="crispEdges"/>
<rect x="158" y="353.10" width="1" height="3.90" fill="#922f3c" fill-opacity="0.86" shape-rendering="crispEdges"/>
<rect x="159" y="353.10" width="1" height="3.90" fill="#922f3c" fill-opacity="0.73" shape-rendering="crispEdges"/>
<rect x="160" y="353.10" width="1" height="3.90" fill="#922f3c" fill-opacity="0.80" shape-rendering="crispEdges"/>
<rect x="161" y="353.10" width="1" height="3.90" fill="#922f3c" fill-opacity="0.77" shape-rendering="crispEdges"/>
<rect x="162" y="353.10" width="2" height="3.90" fill="#922f3c" fill-opacity="0.69" shape-rendering="crispEdges"/>
<rect x="164" y="353.10" width="2" height="3.90" fill="#922f3c" fill-opacity="0.75" shape-rendering="crispEdges"/>
<rect x="166" y="353.10" width="1" height="3.90" fill="#922f3c" fill-opacity="0.85" shape-rendering="crispEdges"/>
<rect x="167" y="353.10" width="1" height="3.90" fill="#922f3c" fill-opacity="0.91" shape-rendering="crispEdges"/>
<rect x="168" y="353.10" width="1" height="3.90" fill="#922f3c" fill-opacity="0.79" shape-rendering="crispEdges"/>
<rect x="169" y="353.10" width="1" height="3.90" fill="#922f3c" fill-opacity="0.90" shape-rendering="crispEdges"/>
<rect x="170" y="353.10" width="1" height="3.90" fill="#922f3c" fill-opacity="0.92" shape-rendering="crispEdges"/>
<rect x="171" y="353.10" width="1" height="3.90" fill="#922f3c" fill-opacity="0.91" shape-rendering="crispEdges"/>
<rect x="172" y="353.10" width="1" height="3.90" fill="#922f3c" fill-opacity="0.48" shape-rendering="crispEdges"/>
<rect x="173" y="353.10" width="2" height="3.90" fill="#922f3c" fill-opacity="0.40" shape-rendering="crispEdges"/>
<rect x="175" y="353.10" width="2" height="3.90" fill="#922f3c" fill-opacity="0.39" shape-rendering="crispEdges"/>
<rect x="177" y="353.10" width="1" height="3.90" fill="#922f3c" fill-opacity="0.62" shape-rendering="crispEdges"/>
<rect x="178" y="353.10" width="1" height="3.90" fill="#922f3c" fill-opacity="0.77" shape-rendering="crispEdges"/>
<rect x="179" y="353.10" width="1" height="3.90" fill="#922f3c" fill-opacity="0.73" shape-rendering="crispEdges"/>
<rect x="180" y="353.10" width="1" height="3.90" fill="#922f3c" fill-opacity="0.54" shape-rendering="crispEdges"/>
<rect x="181" y="353.10" width="1" height="3.90" fill="#922f3c" fill-opacity="0.63" shape-rendering="crispEdges"/>
<rect x="182" y="353.10" width="1" height="3.90" fill="#922f3c" fill-opacity="0.71" shape-rendering="crispEdges"/>
<rect x="183" y="353.10" width="1" height="3.90" fill="#922f3c" fill-opacity="0.33" shape-rendering="crispEdges"/>
<rect x="184" y="353.10" width="1" height="3.90" fill="#922f3c" fill-opacity="0.64" shape-rendering="crispEdges"/>
<rect x="185" y="353.10" width="1" height="3.90" fill="#922f3c" fill-opacity="0.77" shape-rendering="crispEdges"/>
<rect x="186" y="353.10" width="1" height="3.90" fill="#922f3c" fill-opacity="0.70" shape-rendering="crispEdges"/>
<rect x="187" y="353.10" width="1" height="3.90" fill="#922f3c" fill-opacity="0.69" shape-rendering="crispEdges"/>
<rect x="188" y="353.10" width="1" height="3.90" fill="#922f3c" fill-opacity="0.54" shape-rendering="crispEdges"/>
<rect x="189" y="353.10" width="1" height="3.90" fill="#922f3c" fill-opacity="0.38" shape-rendering="crispEdges"/>
<rect x="190" y="353.10" width="1" height="3.90" fill="#922f3c" fill-opacity="0.71" shape-rendering="crispEdges"/>
<rect x="191" y="353.10" width="1" height="3.90" fill="#922f3c" fill-opacity="0.46" shape-rendering="crispEdges"/>
<rect x="192" y="353.10" width="1" height="3.90" fill="#922f3c" fill-opacity="0.71" shape-rendering="crispEdges"/>
<rect x="193" y="353.10" width="1" height="3.90" fill="#922f3c" fill-opacity="0.80" shape-rendering="crispEdges"/>
<rect x="194" y="353.10" width="2" height="3.90" fill="#922f3c" fill-opacity="0.49" shape-rendering="crispEdges"/>
<rect x="196" y="353.10" width="1" height="3.90" fill="#922f3c" fill-opacity="0.79" shape-rendering="crispEdges"/>
<rect x="197" y="353.10" width="1" height="3.90" fill="#922f3c" fill-opacity="0.67" shape-rendering="crispEdges"/>
<rect x="198" y="353.10" width="1" height="3.90" fill="#922f3c" fill-opacity="0.79" shape-rendering="crispEdges"/>
<rect x="199" y="353.10" width="1" height="3.90" fill="#922f3c" fill-opacity="0.31" shape-rendering="crispEdges"/>
<rect x="200" y="353.10" width="1" height="3.90" fill="#922f3c" fill-opacity="0.17" shape-rendering="crispEdges"/>
<rect x="201" y="353.10" width="1" height="3.90" fill="#922f3c" fill-opacity="0.59" shape-rendering="crispEdges"/>
<rect x="202" y="353.10" width="1" height="3.90" fill="#922f3c" fill-opacity="0.55" shape-rendering="crispEdges"/>
<rect x="203" y="353.10" width="1" height="3.90" fill="#922f3c" fill-opacity="0.23" shape-rendering="crispEdges"/>
<rect x="204" y="353.10" width="1" height="3.90" fill="#922f3c" fill-opacity="0.56" shape-rendering="crispEdges"/>
<rect x="205" y="353.10" width="1" height="3.90" fill="#922f3c" fill-opacity="0.63" shape-rendering="crispEdges"/>
<rect x="206" y="353.10" width="1" height="3.90" fill="#922f3c" fill-opacity="0.48" shape-rendering="crispEdges"/>
<rect x="207" y="353.10" width="1" height="3.90" fill="#922f3c" fill-opacity="0.33" shape-rendering="crispEdges"/>
<rect x="208" y="353.10" width="1" height="3.90" fill="#922f3c" fill-opacity="0.42" shape-rendering="crispEdges"/>
<rect x="209" y="353.10" width="1" height="3.90" fill="#922f3c" fill-opacity="0.22" shape-rendering="crispEdges"/>
<rect x="210" y="353.10" width="1" height="3.90" fill="#922f3c" fill-opacity="0.21" shape-rendering="crispEdges"/>
<rect x="211" y="353.10" width="1" height="3.90" fill="#922f3c" fill-opacity="0.78" shape-rendering="crispEdges"/>
<rect x="212" y="353.10" width="1" height="3.90" fill="#922f3c" fill-opacity="0.29" shape-rendering="crispEdges"/>
<rect x="213" y="353.10" width="1" height="3.90" fill="#922f3c" fill-opacity="0.26" shape-rendering="crispEdges"/>
<rect x="214" y="353.10" width="1" height="3.90" fill="#922f3c" fill-opacity="0.38" shape-rendering="crispEdges"/>
<rect x="215" y="353.10" width="1" height="3.90" fill="#922f3c" fill-opacity="0.41" shape-rendering="crispEdges"/>
<rect x="216" y="353.10" width="1" height="3.90" fill="#922f3c" fill-opacity="0.65" shape-rendering="crispEdges"/>
<rect x="217" y="353.10" width="1" height="3.90" fill="#922f3c" fill-opacity="0.63" shape-rendering="crispEdges"/>
<rect x="218" y="353.10" width="1" height="3.90" fill="#922f3c" fill-opacity="0.29" shape-rendering="crispEdges"/>
<rect x="219" y="353.10" width="1" height="3.90" fill="#922f3c" fill-opacity="0.32" shape-rendering="crispEdges"/>
<rect x="220" y="353.10" width="1" height="3.90" fill="#922f3c" fill-opacity="0.34" shape-rendering="crispEdges"/>
<rect x="221" y="353.10" width="1" height="3.90" fill="#922f3c" fill-opacity="0.31" shape-rendering="crispEdges"/>
<rect x="222" y="353.10" width="1" height="3.90" fill="#922f3c" fill-opacity="0.50" shape-rendering="crispEdges"/>
<rect x="223" y="353.10" width="1" height="3.90" fill="#922f3c" fill-opacity="0.32" shape-rendering="crispEdges"/>
<rect x="224" y="353.10" width="1" height="3.90" fill="#922f3c" fill-opacity="0.41" shape-rendering="crispEdges"/>
<rect x="225" y="353.10" width="1" height="3.90" fill="#922f3c" fill-opacity="0.25" shape-rendering="crispEdges"/>
<rect x="226" y="353.10" width="1" height="3.90" fill="#922f3c" fill-opacity="0.45" shape-rendering="crispEdges"/>
<rect x="227" y="353.10" width="1" height="3.90" fill="#922f3c" fill-opacity="0.25" shape-rendering="crispEdges"/>
<rect x="228" y="353.10" width="1" height="3.90" fill="#922f3c" fill-opacity="0.28" shape-rendering="crispEdges"/>
<rect x="229" y="353.10" width="1" height="3.90" fill="#922f3c" fill-opacity="0.33" shape-rendering="crispEdges"/>
<rect x="230" y="353.10" width="1" height="3.90" fill="#922f3c" fill-opacity="0.45" shape-rendering="crispEdges"/>
<rect x="231" y="353.10" width="1" height="3.90" fill="#922f3c" fill-opacity="0.27" shape-rendering="crispEdges"/>
<rect x="234" y="353.10" width="1" height="3.90" fill="#922f3c" fill-opacity="0.26" shape-rendering="crispEdges"/>
<rect x="235" y="353.10" width="1" height="3.90" fill="#922f3c" fill-opacity="0.35" shape-rendering="crispEdges"/>
<rect x="117" y="357.00" width="1" height="3.80" fill="#922f3c" fill-opacity="0.52" shape-rendering="crispEdges"/>
<rect x="118" y="357.00" width="43" height="3.80" fill="#922f3c" fill-opacity="1.00" shape-rendering="crispEdges"/>
<rect x="161" y="357.00" width="1" height="3.80" fill="#922f3c" fill-opacity="0.90" shape-rendering="crispEdges"/>
<rect x="162" y="357.00" width="1" height="3.80" fill="#922f3c" fill-opacity="0.84" shape-rendering="crispEdges"/>
<rect x="163" y="357.00" width="1" height="3.80" fill="#922f3c" fill-opacity="0.89" shape-rendering="crispEdges"/>
<rect x="164" y="357.00" width="1" height="3.80" fill="#922f3c" fill-opacity="0.86" shape-rendering="crispEdges"/>
<rect x="165" y="357.00" width="1" height="3.80" fill="#922f3c" fill-opacity="0.84" shape-rendering="crispEdges"/>
<rect x="166" y="357.00" width="1" height="3.80" fill="#922f3c" fill-opacity="0.94" shape-rendering="crispEdges"/>
<rect x="167" y="357.00" width="1" height="3.80" fill="#922f3c" fill-opacity="0.86" shape-rendering="crispEdges"/>
<rect x="168" y="357.00" width="1" height="3.80" fill="#922f3c" fill-opacity="0.90" shape-rendering="crispEdges"/>
<rect x="169" y="357.00" width="1" height="3.80" fill="#922f3c" fill-opacity="0.93" shape-rendering="crispEdges"/>
<rect x="170" y="357.00" width="1" height="3.80" fill="#922f3c" fill-opacity="0.91" shape-rendering="crispEdges"/>
<rect x="171" y="357.00" width="1" height="3.80" fill="#922f3c" fill-opacity="0.88" shape-rendering="crispEdges"/>
<rect x="172" y="357.00" width="1" height="3.80" fill="#922f3c" fill-opacity="0.80" shape-rendering="crispEdges"/>
<rect x="173" y="357.00" width="1" height="3.80" fill="#922f3c" fill-opacity="0.81" shape-rendering="crispEdges"/>
<rect x="174" y="357.00" width="1" height="3.80" fill="#922f3c" fill-opacity="0.87" shape-rendering="crispEdges"/>
<rect x="175" y="357.00" width="1" height="3.80" fill="#922f3c" fill-opacity="0.71" shape-rendering="crispEdges"/>
<rect x="176" y="357.00" width="1" height="3.80" fill="#922f3c" fill-opacity="0.81" shape-rendering="crispEdges"/>
<rect x="177" y="357.00" width="1" height="3.80" fill="#922f3c" fill-opacity="0.74" shape-rendering="crispEdges"/>
<rect x="178" y="357.00" width="1" height="3.80" fill="#922f3c" fill-opacity="0.75" shape-rendering="crispEdges"/>
<rect x="179" y="357.00" width="1" height="3.80" fill="#922f3c" fill-opacity="0.87" shape-rendering="crispEdges"/>
<rect x="180" y="357.00" width="1" height="3.80" fill="#922f3c" fill-opacity="0.80" shape-rendering="crispEdges"/>
<rect x="181" y="357.00" width="1" height="3.80" fill="#922f3c" fill-opacity="0.32" shape-rendering="crispEdges"/>
<rect x="182" y="357.00" width="1" height="3.80" fill="#922f3c" fill-opacity="0.79" shape-rendering="crispEdges"/>
<rect x="183" y="357.00" width="1" height="3.80" fill="#922f3c" fill-opacity="0.85" shape-rendering="crispEdges"/>
<rect x="184" y="357.00" width="1" height="3.80" fill="#922f3c" fill-opacity="0.68" shape-rendering="crispEdges"/>
<rect x="185" y="357.00" width="1" height="3.80" fill="#922f3c" fill-opacity="0.74" shape-rendering="crispEdges"/>
<rect x="186" y="357.00" width="2" height="3.80" fill="#922f3c" fill-opacity="0.70" shape-rendering="crispEdges"/>
<rect x="188" y="357.00" width="1" height="3.80" fill="#922f3c" fill-opacity="0.77" shape-rendering="crispEdges"/>
<rect x="189" y="357.00" width="1" height="3.80" fill="#922f3c" fill-opacity="0.68" shape-rendering="crispEdges"/>
<rect x="190" y="357.00" width="1" height="3.80" fill="#922f3c" fill-opacity="0.71" shape-rendering="crispEdges"/>
<rect x="191" y="357.00" width="1" height="3.80" fill="#922f3c" fill-opacity="0.69" shape-rendering="crispEdges"/>
<rect x="192" y="357.00" width="1" height="3.80" fill="#922f3c" fill-opacity="0.86" shape-rendering="crispEdges"/>
<rect x="193" y="357.00" width="1" height="3.80" fill="#922f3c" fill-opacity="0.66" shape-rendering="crispEdges"/>
<rect x="194" y="357.00" width="1" height="3.80" fill="#922f3c" fill-opacity="0.58" shape-rendering="crispEdges"/>
<rect x="195" y="357.00" width="1" height="3.80" fill="#922f3c" fill-opacity="0.61" shape-rendering="crispEdges"/>
<rect x="196" y="357.00" width="1" height="3.80" fill="#922f3c" fill-opacity="0.28" shape-rendering="crispEdges"/>
<rect x="197" y="357.00" width="1" height="3.80" fill="#922f3c" fill-opacity="0.63" shape-rendering="crispEdges"/>
<rect x="198" y="357.00" width="1" height="3.80" fill="#922f3c" fill-opacity="0.81" shape-rendering="crispEdges"/>
<rect x="199" y="357.00" width="1" height="3.80" fill="#922f3c" fill-opacity="0.76" shape-rendering="crispEdges"/>
<rect x="200" y="357.00" width="1" height="3.80" fill="#922f3c" fill-opacity="0.43" shape-rendering="crispEdges"/>
<rect x="201" y="357.00" width="1" height="3.80" fill="#922f3c" fill-opacity="0.42" shape-rendering="crispEdges"/>
<rect x="202" y="357.00" width="1" height="3.80" fill="#922f3c" fill-opacity="0.57" shape-rendering="crispEdges"/>
<rect x="203" y="357.00" width="1" height="3.80" fill="#922f3c" fill-opacity="0.39" shape-rendering="crispEdges"/>
<rect x="204" y="357.00" width="1" height="3.80" fill="#922f3c" fill-opacity="0.48" shape-rendering="crispEdges"/>
<rect x="205" y="357.00" width="1" height="3.80" fill="#922f3c" fill-opacity="0.40" shape-rendering="crispEdges"/>
<rect x="206" y="357.00" width="1" height="3.80" fill="#922f3c" fill-opacity="0.68" shape-rendering="crispEdges"/>
<rect x="207" y="357.00" width="1" height="3.80" fill="#922f3c" fill-opacity="0.74" shape-rendering="crispEdges"/>
<rect x="208" y="357.00" width="1" height="3.80" fill="#922f3c" fill-opacity="0.79" shape-rendering="crispEdges"/>
<rect x="209" y="357.00" width="1" height="3.80" fill="#922f3c" fill-opacity="0.43" shape-rendering="crispEdges"/>
<rect x="210" y="357.00" width="1" height="3.80" fill="#922f3c" fill-opacity="0.70" shape-rendering="crispEdges"/>
<rect x="211" y="357.00" width="1" height="3.80" fill="#922f3c" fill-opacity="0.68" shape-rendering="crispEdges"/>
<rect x="212" y="357.00" width="1" height="3.80" fill="#922f3c" fill-opacity="0.11" shape-rendering="crispEdges"/>
<rect x="213" y="357.00" width="1" height="3.80" fill="#922f3c" fill-opacity="0.29" shape-rendering="crispEdges"/>
<rect x="215" y="357.00" width="1" height="3.80" fill="#922f3c" fill-opacity="0.62" shape-rendering="crispEdges"/>
<rect x="216" y="357.00" width="1" height="3.80" fill="#922f3c" fill-opacity="0.27" shape-rendering="crispEdges"/>
<rect x="217" y="357.00" width="1" height="3.80" fill="#922f3c" fill-opacity="0.42" shape-rendering="crispEdges"/>
<rect x="218" y="357.00" width="1" height="3.80" fill="#922f3c" fill-opacity="0.50" shape-rendering="crispEdges"/>
<rect x="219" y="357.00" width="1" height="3.80" fill="#922f3c" fill-opacity="0.54" shape-rendering="crispEdges"/>
<rect x="220" y="357.00" width="1" height="3.80" fill="#922f3c" fill-opacity="0.90" shape-rendering="crispEdges"/>
<rect x="221" y="357.00" width="1" height="3.80" fill="#922f3c" fill-opacity="0.85" shape-rendering="crispEdges"/>
<rect x="223" y="357.00" width="1" height="3.80" fill="#922f3c" fill-opacity="0.12" shape-rendering="crispEdges"/>
<rect x="224" y="357.00" width="1" height="3.80" fill="#922f3c" fill-opacity="0.37" shape-rendering="crispEdges"/>
<rect x="233" y="357.00" width="1" height="3.80" fill="#922f3c" fill-opacity="0.15" shape-rendering="crispEdges"/>
<rect x="234" y="357.00" width="1" height="3.80" fill="#922f3c" fill-opacity="0.24" shape-rendering="crispEdges"/>
<rect x="235" y="357.00" width="1" height="3.80" fill="#922f3c" fill-opacity="0.19" shape-rendering="crispEdges"/>
<text transform="translate(251.90,355.70) scale(1,1.12)" font-size="6.1" text-anchor="middle" fill="#222">1</text>
<text transform="translate(251.90,362.70) scale(1,1.12)" font-size="6.1" text-anchor="middle" fill="#222">0</text>
<line x1="117.40" y1="350.70" x2="251.40" y2="227.20" stroke="#55698a" stroke-width="0.9" stroke-dasharray="2.0 1.4"/>
<polyline points="117.40,350.70 176.49,310.19 234.65,276.85" fill="none" stroke="#4ea1f6" stroke-width="1.15" stroke-linejoin="round"/>
<circle cx="117.70" cy="350.10" r="1.5" fill="none" stroke="#1a7a2a" stroke-width="0.85"/>
<circle cx="119.17" cy="349.09" r="1.5" fill="none" stroke="#1a7a2a" stroke-width="0.85"/>
<line x1="113.90" y1="223.00" x2="113.90" y2="364.50" stroke="#999" stroke-width="1.0"/>
<line x1="113.40" y1="364.50" x2="255.20" y2="364.50" stroke="#999" stroke-width="1.0"/>
<line x1="111.30" y1="350.50" x2="113.90" y2="350.50" stroke="#909090" stroke-width="0.8"/>
<text transform="translate(109.90,350.50) rotate(-90) scale(1,1.12)" font-size="6.1" text-anchor="middle" fill="#222">0</text>
<line x1="111.30" y1="326.50" x2="113.90" y2="326.50" stroke="#909090" stroke-width="0.8"/>
<text transform="translate(109.90,326.50) rotate(-90) scale(1,1.12)" font-size="6.1" text-anchor="middle" fill="#222">.2</text>
<line x1="111.30" y1="301.50" x2="113.90" y2="301.50" stroke="#909090" stroke-width="0.8"/>
<text transform="translate(109.90,301.50) rotate(-90) scale(1,1.12)" font-size="6.1" text-anchor="middle" fill="#222">.4</text>
<line x1="111.30" y1="276.50" x2="113.90" y2="276.50" stroke="#909090" stroke-width="0.8"/>
<text transform="translate(109.90,276.50) rotate(-90) scale(1,1.12)" font-size="6.1" text-anchor="middle" fill="#222">.6</text>
<line x1="111.30" y1="251.50" x2="113.90" y2="251.50" stroke="#909090" stroke-width="0.8"/>
<text transform="translate(109.90,251.50) rotate(-90) scale(1,1.12)" font-size="6.1" text-anchor="middle" fill="#222">.8</text>
<line x1="111.30" y1="226.50" x2="113.90" y2="226.50" stroke="#909090" stroke-width="0.8"/>
<text transform="translate(109.90,226.50) rotate(-90) scale(1,1.12)" font-size="6.1" text-anchor="middle" fill="#222">1</text>
<line x1="117.40" y1="364.50" x2="117.40" y2="366.40" stroke="#909090" stroke-width="0.8"/>
<text transform="translate(117.40,374.00) scale(1,1.12)" font-size="6.1" text-anchor="middle" fill="#222">0</text>
<line x1="144.20" y1="364.50" x2="144.20" y2="366.40" stroke="#909090" stroke-width="0.8"/>
<text transform="translate(144.20,374.00) scale(1,1.12)" font-size="6.1" text-anchor="middle" fill="#222">.2</text>
<line x1="171.00" y1="364.50" x2="171.00" y2="366.40" stroke="#909090" stroke-width="0.8"/>
<text transform="translate(171.00,374.00) scale(1,1.12)" font-size="6.1" text-anchor="middle" fill="#222">.4</text>
<line x1="197.80" y1="364.50" x2="197.80" y2="366.40" stroke="#909090" stroke-width="0.8"/>
<text transform="translate(197.80,374.00) scale(1,1.12)" font-size="6.1" text-anchor="middle" fill="#222">.6</text>
<line x1="224.60" y1="364.50" x2="224.60" y2="366.40" stroke="#909090" stroke-width="0.8"/>
<text transform="translate(224.60,374.00) scale(1,1.12)" font-size="6.1" text-anchor="middle" fill="#222">.8</text>
<line x1="251.40" y1="364.50" x2="251.40" y2="366.40" stroke="#909090" stroke-width="0.8"/>
<text transform="translate(251.40,374.00) scale(1,1.12)" font-size="6.1" text-anchor="middle" fill="#222">1</text>
<text transform="translate(184.25,379.60) scale(0.88,1)" font-size="6.6" text-anchor="middle" fill="#222">Expected</text>
<text transform="translate(102.70,294.15) rotate(-90) scale(0.9,1)" font-size="6.5" text-anchor="middle" fill="#222">Observed</text>
<text x="117.40" y="231.30" font-size="4.85" fill="#333">E:O = 1.315</text>
<text x="117.40" y="236.00" font-size="4.85" fill="#333">CITL = -0.296</text>
<text x="117.40" y="240.70" font-size="4.85" fill="#333">Slope = 0.941</text>
<text x="117.40" y="245.40" font-size="4.85" fill="#333">AUC = 0.892</text>
<text transform="translate(99.90,217.00) scale(1.05,1)" font-size="11.5" fill="#333">(d)</text>
<rect x="257.50" y="276.60" width="55.20" height="34.80" fill="#fff" stroke="#8a8a8a" stroke-width="0.8"/>
<line x1="260.00" y1="282.30" x2="282.40" y2="282.30" stroke="#6a80a0" stroke-width="0.8" stroke-dasharray="2 1.2"/>
<circle cx="271.20" cy="289.90" r="1.65" fill="none" stroke="#2e8b3a" stroke-width="0.9"/>
<line x1="260.00" y1="297.50" x2="282.40" y2="297.50" stroke="#6e9a5a" stroke-width="0.8"/>
<line x1="260.00" y1="305.80" x2="282.40" y2="305.80" stroke="#b3d5f9" stroke-width="1.8"/>
<text x="287.20" y="284.20" font-size="4.75" fill="#333">Reference</text>
<text x="287.20" y="291.80" font-size="4.75" fill="#333">Groups</text>
<text x="287.20" y="299.40" font-size="4.75" fill="#333">95% CIs</text>
<text x="287.20" y="307.70" font-size="4.75" fill="#333">Lowess</text>
<line x1="405.90" y1="350.50" x2="546.80" y2="350.50" stroke="#edf3f5" stroke-width="1"/>
<line x1="405.90" y1="326.50" x2="546.80" y2="326.50" stroke="#edf3f5" stroke-width="1"/>
<line x1="405.90" y1="301.50" x2="546.80" y2="301.50" stroke="#edf3f5" stroke-width="1"/>
<line x1="405.90" y1="276.50" x2="546.80" y2="276.50" stroke="#edf3f5" stroke-width="1"/>
<line x1="405.90" y1="251.50" x2="546.80" y2="251.50" stroke="#edf3f5" stroke-width="1"/>
<line x1="405.90" y1="226.50" x2="546.80" y2="226.50" stroke="#edf3f5" stroke-width="1"/>
<line x1="405.40" y1="356.50" x2="546.80" y2="356.50" stroke="#e07f95" stroke-width="1"/>
<rect x="409" y="353.10" width="7" height="3.90" fill="#922f3c" fill-opacity="1.00" shape-rendering="crispEdges"/>
<rect x="416" y="353.10" width="1" height="3.90" fill="#922f3c" fill-opacity="0.70" shape-rendering="crispEdges"/>
<rect x="417" y="353.10" width="1" height="3.90" fill="#922f3c" fill-opacity="0.82" shape-rendering="crispEdges"/>
<rect x="418" y="353.10" width="1" height="3.90" fill="#922f3c" fill-opacity="0.61" shape-rendering="crispEdges"/>
<rect x="419" y="353.10" width="1" height="3.90" fill="#922f3c" fill-opacity="0.77" shape-rendering="crispEdges"/>
<rect x="420" y="353.10" width="1" height="3.90" fill="#922f3c" fill-opacity="0.73" shape-rendering="crispEdges"/>
<rect x="421" y="353.10" width="1" height="3.90" fill="#922f3c" fill-opacity="0.61" shape-rendering="crispEdges"/>
<rect x="422" y="353.10" width="1" height="3.90" fill="#922f3c" fill-opacity="0.70" shape-rendering="crispEdges"/>
<rect x="423" y="353.10" width="1" height="3.90" fill="#922f3c" fill-opacity="0.79" shape-rendering="crispEdges"/>
<rect x="424" y="353.10" width="1" height="3.90" fill="#922f3c" fill-opacity="0.75" shape-rendering="crispEdges"/>
<rect x="425" y="353.10" width="1" height="3.90" fill="#922f3c" fill-opacity="0.62" shape-rendering="crispEdges"/>
<rect x="426" y="353.10" width="1" height="3.90" fill="#922f3c" fill-opacity="0.90" shape-rendering="crispEdges"/>
<rect x="427" y="353.10" width="1" height="3.90" fill="#922f3c" fill-opacity="0.84" shape-rendering="crispEdges"/>
<rect x="428" y="353.10" width="1" height="3.90" fill="#922f3c" fill-opacity="0.89" shape-rendering="crispEdges"/>
<rect x="429" y="353.10" width="1" height="3.90" fill="#922f3c" fill-opacity="0.63" shape-rendering="crispEdges"/>
<rect x="430" y="353.10" width="1" height="3.90" fill="#922f3c" fill-opacity="0.68" shape-rendering="crispEdges"/>
<rect x="431" y="353.10" width="1" height="3.90" fill="#922f3c" fill-opacity="0.61" shape-rendering="crispEdges"/>
<rect x="432" y="353.10" width="1" height="3.90" fill="#922f3c" fill-opacity="0.83" shape-rendering="crispEdges"/>
<rect x="433" y="353.10" width="1" height="3.90" fill="#922f3c" fill-opacity="0.68" shape-rendering="crispEdges"/>
<rect x="434" y="353.10" width="1" height="3.90" fill="#922f3c" fill-opacity="0.64" shape-rendering="crispEdges"/>
<rect x="435" y="353.10" width="1" height="3.90" fill="#922f3c" fill-opacity="0.73" shape-rendering="crispEdges"/>
<rect x="436" y="353.10" width="1" height="3.90" fill="#922f3c" fill-opacity="0.87" shape-rendering="crispEdges"/>
<rect x="437" y="353.10" width="1" height="3.90" fill="#922f3c" fill-opacity="0.85" shape-rendering="crispEdges"/>
<rect x="438" y="353.10" width="1" height="3.90" fill="#922f3c" fill-opacity="0.68" shape-rendering="crispEdges"/>
<rect x="439" y="353.10" width="1" height="3.90" fill="#922f3c" fill-opacity="0.64" shape-rendering="crispEdges"/>
<rect x="440" y="353.10" width="1" height="3.90" fill="#922f3c" fill-opacity="0.88" shape-rendering="crispEdges"/>
<rect x="441" y="353.10" width="1" height="3.90" fill="#922f3c" fill-opacity="0.77" shape-rendering="crispEdges"/>
<rect x="442" y="353.10" width="1" height="3.90" fill="#922f3c" fill-opacity="0.81" shape-rendering="crispEdges"/>
<rect x="443" y="353.10" width="1" height="3.90" fill="#922f3c" fill-opacity="0.10" shape-rendering="crispEdges"/>
<rect x="444" y="353.10" width="1" height="3.90" fill="#922f3c" fill-opacity="0.23" shape-rendering="crispEdges"/>
<rect x="445" y="353.10" width="1" height="3.90" fill="#922f3c" fill-opacity="0.61" shape-rendering="crispEdges"/>
<rect x="446" y="353.10" width="1" height="3.90" fill="#922f3c" fill-opacity="0.46" shape-rendering="crispEdges"/>
<rect x="447" y="353.10" width="1" height="3.90" fill="#922f3c" fill-opacity="0.24" shape-rendering="crispEdges"/>
<rect x="448" y="353.10" width="1" height="3.90" fill="#922f3c" fill-opacity="0.76" shape-rendering="crispEdges"/>
<rect x="449" y="353.10" width="1" height="3.90" fill="#922f3c" fill-opacity="0.58" shape-rendering="crispEdges"/>
<rect x="450" y="353.10" width="1" height="3.90" fill="#922f3c" fill-opacity="0.68" shape-rendering="crispEdges"/>
<rect x="451" y="353.10" width="1" height="3.90" fill="#922f3c" fill-opacity="0.25" shape-rendering="crispEdges"/>
<rect x="452" y="353.10" width="1" height="3.90" fill="#922f3c" fill-opacity="0.71" shape-rendering="crispEdges"/>
<rect x="453" y="353.10" width="1" height="3.90" fill="#922f3c" fill-opacity="0.24" shape-rendering="crispEdges"/>
<rect x="454" y="353.10" width="1" height="3.90" fill="#922f3c" fill-opacity="0.72" shape-rendering="crispEdges"/>
<rect x="455" y="353.10" width="1" height="3.90" fill="#922f3c" fill-opacity="0.09" shape-rendering="crispEdges"/>
<rect x="456" y="353.10" width="1" height="3.90" fill="#922f3c" fill-opacity="0.08" shape-rendering="crispEdges"/>
<rect x="457" y="353.10" width="1" height="3.90" fill="#922f3c" fill-opacity="0.43" shape-rendering="crispEdges"/>
<rect x="458" y="353.10" width="1" height="3.90" fill="#922f3c" fill-opacity="0.23" shape-rendering="crispEdges"/>
<rect x="459" y="353.10" width="1" height="3.90" fill="#922f3c" fill-opacity="0.11" shape-rendering="crispEdges"/>
<rect x="460" y="353.10" width="1" height="3.90" fill="#922f3c" fill-opacity="0.08" shape-rendering="crispEdges"/>
<rect x="461" y="353.10" width="1" height="3.90" fill="#922f3c" fill-opacity="0.15" shape-rendering="crispEdges"/>
<rect x="462" y="353.10" width="1" height="3.90" fill="#922f3c" fill-opacity="0.31" shape-rendering="crispEdges"/>
<rect x="463" y="353.10" width="1" height="3.90" fill="#922f3c" fill-opacity="0.24" shape-rendering="crispEdges"/>
<rect x="464" y="353.10" width="1" height="3.90" fill="#922f3c" fill-opacity="0.27" shape-rendering="crispEdges"/>
<rect x="465" y="353.10" width="1" height="3.90" fill="#922f3c" fill-opacity="0.21" shape-rendering="crispEdges"/>
<rect x="466" y="353.10" width="1" height="3.90" fill="#922f3c" fill-opacity="0.29" shape-rendering="crispEdges"/>
<rect x="467" y="353.10" width="2" height="3.90" fill="#922f3c" fill-opacity="0.35" shape-rendering="crispEdges"/>
<rect x="469" y="353.10" width="1" height="3.90" fill="#922f3c" fill-opacity="0.72" shape-rendering="crispEdges"/>
<rect x="470" y="353.10" width="1" height="3.90" fill="#922f3c" fill-opacity="0.50" shape-rendering="crispEdges"/>
<rect x="471" y="353.10" width="1" height="3.90" fill="#922f3c" fill-opacity="0.20" shape-rendering="crispEdges"/>
<rect x="472" y="353.10" width="1" height="3.90" fill="#922f3c" fill-opacity="0.12" shape-rendering="crispEdges"/>
<rect x="473" y="353.10" width="1" height="3.90" fill="#922f3c" fill-opacity="0.37" shape-rendering="crispEdges"/>
<rect x="474" y="353.10" width="1" height="3.90" fill="#922f3c" fill-opacity="0.19" shape-rendering="crispEdges"/>
<rect x="475" y="353.10" width="1" height="3.90" fill="#922f3c" fill-opacity="0.32" shape-rendering="crispEdges"/>
<rect x="476" y="353.10" width="1" height="3.90" fill="#922f3c" fill-opacity="0.19" shape-rendering="crispEdges"/>
<rect x="477" y="353.10" width="1" height="3.90" fill="#922f3c" fill-opacity="0.58" shape-rendering="crispEdges"/>
<rect x="478" y="353.10" width="1" height="3.90" fill="#922f3c" fill-opacity="0.48" shape-rendering="crispEdges"/>
<rect x="479" y="353.10" width="1" height="3.90" fill="#922f3c" fill-opacity="0.28" shape-rendering="crispEdges"/>
<rect x="480" y="353.10" width="1" height="3.90" fill="#922f3c" fill-opacity="0.44" shape-rendering="crispEdges"/>
<rect x="481" y="353.10" width="1" height="3.90" fill="#922f3c" fill-opacity="0.68" shape-rendering="crispEdges"/>
<rect x="482" y="353.10" width="1" height="3.90" fill="#922f3c" fill-opacity="0.24" shape-rendering="crispEdges"/>
<rect x="483" y="353.10" width="1" height="3.90" fill="#922f3c" fill-opacity="0.62" shape-rendering="crispEdges"/>
<rect x="484" y="353.10" width="1" height="3.90" fill="#922f3c" fill-opacity="0.41" shape-rendering="crispEdges"/>
<rect x="485" y="353.10" width="1" height="3.90" fill="#922f3c" fill-opacity="0.45" shape-rendering="crispEdges"/>
<rect x="486" y="353.10" width="1" height="3.90" fill="#922f3c" fill-opacity="0.63" shape-rendering="crispEdges"/>
<rect x="487" y="353.10" width="1" height="3.90" fill="#922f3c" fill-opacity="0.39" shape-rendering="crispEdges"/>
<rect x="488" y="353.10" width="1" height="3.90" fill="#922f3c" fill-opacity="0.45" shape-rendering="crispEdges"/>
<rect x="489" y="353.10" width="1" height="3.90" fill="#922f3c" fill-opacity="0.55" shape-rendering="crispEdges"/>
<rect x="490" y="353.10" width="1" height="3.90" fill="#922f3c" fill-opacity="0.71" shape-rendering="crispEdges"/>
<rect x="491" y="353.10" width="1" height="3.90" fill="#922f3c" fill-opacity="0.37" shape-rendering="crispEdges"/>
<rect x="492" y="353.10" width="1" height="3.90" fill="#922f3c" fill-opacity="0.21" shape-rendering="crispEdges"/>
<rect x="493" y="353.10" width="1" height="3.90" fill="#922f3c" fill-opacity="0.19" shape-rendering="crispEdges"/>
<rect x="494" y="353.10" width="1" height="3.90" fill="#922f3c" fill-opacity="0.47" shape-rendering="crispEdges"/>
<rect x="495" y="353.10" width="1" height="3.90" fill="#922f3c" fill-opacity="0.35" shape-rendering="crispEdges"/>
<rect x="497" y="353.10" width="1" height="3.90" fill="#922f3c" fill-opacity="0.16" shape-rendering="crispEdges"/>
<rect x="498" y="353.10" width="1" height="3.90" fill="#922f3c" fill-opacity="0.09" shape-rendering="crispEdges"/>
<rect x="499" y="353.10" width="1" height="3.90" fill="#922f3c" fill-opacity="0.22" shape-rendering="crispEdges"/>
<rect x="500" y="353.10" width="1" height="3.90" fill="#922f3c" fill-opacity="0.19" shape-rendering="crispEdges"/>
<rect x="501" y="353.10" width="1" height="3.90" fill="#922f3c" fill-opacity="0.52" shape-rendering="crispEdges"/>
<rect x="502" y="353.10" width="1" height="3.90" fill="#922f3c" fill-opacity="0.14" shape-rendering="crispEdges"/>
<rect x="503" y="353.10" width="1" height="3.90" fill="#922f3c" fill-opacity="0.12" shape-rendering="crispEdges"/>
<rect x="504" y="353.10" width="1" height="3.90" fill="#922f3c" fill-opacity="0.20" shape-rendering="crispEdges"/>
<rect x="505" y="353.10" width="1" height="3.90" fill="#922f3c" fill-opacity="0.56" shape-rendering="crispEdges"/>
<rect x="506" y="353.10" width="1" height="3.90" fill="#922f3c" fill-opacity="0.58" shape-rendering="crispEdges"/>
<rect x="508" y="353.10" width="1" height="3.90" fill="#922f3c" fill-opacity="0.18" shape-rendering="crispEdges"/>
<rect x="509" y="353.10" width="1" height="3.90" fill="#922f3c" fill-opacity="0.11" shape-rendering="crispEdges"/>
<rect x="510" y="353.10" width="1" height="3.90" fill="#922f3c" fill-opacity="0.31" shape-rendering="crispEdges"/>
<rect x="511" y="353.10" width="1" height="3.90" fill="#922f3c" fill-opacity="0.34" shape-rendering="crispEdges"/>
<rect x="512" y="353.10" width="1" height="3.90" fill="#922f3c" fill-opacity="0.43" shape-rendering="crispEdges"/>
<rect x="513" y="353.10" width="1" height="3.90" fill="#922f3c" fill-opacity="0.27" shape-rendering="crispEdges"/>
<rect x="514" y="353.10" width="1" height="3.90" fill="#922f3c" fill-opacity="0.19" shape-rendering="crispEdges"/>
<rect x="515" y="353.10" width="1" height="3.90" fill="#922f3c" fill-opacity="0.14" shape-rendering="crispEdges"/>
<rect x="516" y="353.10" width="1" height="3.90" fill="#922f3c" fill-opacity="0.70" shape-rendering="crispEdges"/>
<rect x="517" y="353.10" width="1" height="3.90" fill="#922f3c" fill-opacity="0.71" shape-rendering="crispEdges"/>
<rect x="518" y="353.10" width="1" height="3.90" fill="#922f3c" fill-opacity="0.16" shape-rendering="crispEdges"/>
<rect x="519" y="353.10" width="1" height="3.90" fill="#922f3c" fill-opacity="0.41" shape-rendering="crispEdges"/>
<rect x="520" y="353.10" width="1" height="3.90" fill="#922f3c" fill-opacity="0.80" shape-rendering="crispEdges"/>
<rect x="521" y="353.10" width="1" height="3.90" fill="#922f3c" fill-opacity="0.45" shape-rendering="crispEdges"/>
<rect x="522" y="353.10" width="1" height="3.90" fill="#922f3c" fill-opacity="0.47" shape-rendering="crispEdges"/>
<rect x="523" y="353.10" width="1" height="3.90" fill="#922f3c" fill-opacity="0.08" shape-rendering="crispEdges"/>
<rect x="524" y="353.10" width="1" height="3.90" fill="#922f3c" fill-opacity="0.17" shape-rendering="crispEdges"/>
<rect x="525" y="353.10" width="1" height="3.90" fill="#922f3c" fill-opacity="0.59" shape-rendering="crispEdges"/>
<rect x="526" y="353.10" width="1" height="3.90" fill="#922f3c" fill-opacity="0.60" shape-rendering="crispEdges"/>
<rect x="527" y="353.10" width="1" height="3.90" fill="#922f3c" fill-opacity="0.46" shape-rendering="crispEdges"/>
<rect x="528" y="353.10" width="1" height="3.90" fill="#922f3c" fill-opacity="0.60" shape-rendering="crispEdges"/>
<rect x="529" y="353.10" width="1" height="3.90" fill="#922f3c" fill-opacity="0.36" shape-rendering="crispEdges"/>
<rect x="530" y="353.10" width="1" height="3.90" fill="#922f3c" fill-opacity="0.62" shape-rendering="crispEdges"/>
<rect x="531" y="353.10" width="1" height="3.90" fill="#922f3c" fill-opacity="0.55" shape-rendering="crispEdges"/>
<rect x="532" y="353.10" width="1" height="3.90" fill="#922f3c" fill-opacity="0.66" shape-rendering="crispEdges"/>
<rect x="533" y="353.10" width="1" height="3.90" fill="#922f3c" fill-opacity="0.54" shape-rendering="crispEdges"/>
<rect x="534" y="353.10" width="1" height="3.90" fill="#922f3c" fill-opacity="0.53" shape-rendering="crispEdges"/>
<rect x="535" y="353.10" width="1" height="3.90" fill="#922f3c" fill-opacity="0.63" shape-rendering="crispEdges"/>
<rect x="536" y="353.10" width="1" height="3.90" fill="#922f3c" fill-opacity="0.60" shape-rendering="crispEdges"/>
<rect x="537" y="353.10" width="1" height="3.90" fill="#922f3c" fill-opacity="0.73" shape-rendering="crispEdges"/>
<rect x="538" y="353.10" width="1" height="3.90" fill="#922f3c" fill-opacity="0.71" shape-rendering="crispEdges"/>
<rect x="539" y="353.10" width="1" height="3.90" fill="#922f3c" fill-opacity="0.79" shape-rendering="crispEdges"/>
<rect x="540" y="353.10" width="1" height="3.90" fill="#922f3c" fill-opacity="0.88" shape-rendering="crispEdges"/>
<rect x="541" y="353.10" width="1" height="3.90" fill="#922f3c" fill-opacity="0.89" shape-rendering="crispEdges"/>
<rect x="542" y="353.10" width="1" height="3.90" fill="#922f3c" fill-opacity="0.92" shape-rendering="crispEdges"/>
<rect x="409" y="357.00" width="22" height="3.80" fill="#922f3c" fill-opacity="1.00" shape-rendering="crispEdges"/>
<rect x="431" y="357.00" width="1" height="3.80" fill="#922f3c" fill-opacity="0.88" shape-rendering="crispEdges"/>
<rect x="432" y="357.00" width="1" height="3.80" fill="#922f3c" fill-opacity="0.73" shape-rendering="crispEdges"/>
<rect x="433" y="357.00" width="1" height="3.80" fill="#922f3c" fill-opacity="0.91" shape-rendering="crispEdges"/>
<rect x="434" y="357.00" width="1" height="3.80" fill="#922f3c" fill-opacity="0.69" shape-rendering="crispEdges"/>
<rect x="435" y="357.00" width="1" height="3.80" fill="#922f3c" fill-opacity="0.84" shape-rendering="crispEdges"/>
<rect x="436" y="357.00" width="1" height="3.80" fill="#922f3c" fill-opacity="0.82" shape-rendering="crispEdges"/>
<rect x="437" y="357.00" width="1" height="3.80" fill="#922f3c" fill-opacity="0.66" shape-rendering="crispEdges"/>
<rect x="438" y="357.00" width="1" height="3.80" fill="#922f3c" fill-opacity="0.87" shape-rendering="crispEdges"/>
<rect x="439" y="357.00" width="1" height="3.80" fill="#922f3c" fill-opacity="0.88" shape-rendering="crispEdges"/>
<rect x="440" y="357.00" width="1" height="3.80" fill="#922f3c" fill-opacity="0.81" shape-rendering="crispEdges"/>
<rect x="441" y="357.00" width="1" height="3.80" fill="#922f3c" fill-opacity="0.84" shape-rendering="crispEdges"/>
<rect x="442" y="357.00" width="1" height="3.80" fill="#922f3c" fill-opacity="0.86" shape-rendering="crispEdges"/>
<rect x="443" y="357.00" width="1" height="3.80" fill="#922f3c" fill-opacity="0.68" shape-rendering="crispEdges"/>
<rect x="444" y="357.00" width="1" height="3.80" fill="#922f3c" fill-opacity="0.79" shape-rendering="crispEdges"/>
<rect x="445" y="357.00" width="1" height="3.80" fill="#922f3c" fill-opacity="0.78" shape-rendering="crispEdges"/>
<rect x="446" y="357.00" width="1" height="3.80" fill="#922f3c" fill-opacity="0.87" shape-rendering="crispEdges"/>
<rect x="447" y="357.00" width="1" height="3.80" fill="#922f3c" fill-opacity="0.86" shape-rendering="crispEdges"/>
<rect x="448" y="357.00" width="1" height="3.80" fill="#922f3c" fill-opacity="0.87" shape-rendering="crispEdges"/>
<rect x="449" y="357.00" width="1" height="3.80" fill="#922f3c" fill-opacity="0.80" shape-rendering="crispEdges"/>
<rect x="450" y="357.00" width="1" height="3.80" fill="#922f3c" fill-opacity="0.88" shape-rendering="crispEdges"/>
<rect x="451" y="357.00" width="2" height="3.80" fill="#922f3c" fill-opacity="0.83" shape-rendering="crispEdges"/>
<rect x="453" y="357.00" width="1" height="3.80" fill="#922f3c" fill-opacity="0.71" shape-rendering="crispEdges"/>
<rect x="454" y="357.00" width="1" height="3.80" fill="#922f3c" fill-opacity="0.66" shape-rendering="crispEdges"/>
<rect x="455" y="357.00" width="1" height="3.80" fill="#922f3c" fill-opacity="0.68" shape-rendering="crispEdges"/>
<rect x="456" y="357.00" width="1" height="3.80" fill="#922f3c" fill-opacity="0.74" shape-rendering="crispEdges"/>
<rect x="457" y="357.00" width="1" height="3.80" fill="#922f3c" fill-opacity="0.21" shape-rendering="crispEdges"/>
<rect x="458" y="357.00" width="1" height="3.80" fill="#922f3c" fill-opacity="0.82" shape-rendering="crispEdges"/>
<rect x="459" y="357.00" width="1" height="3.80" fill="#922f3c" fill-opacity="0.72" shape-rendering="crispEdges"/>
<rect x="460" y="357.00" width="1" height="3.80" fill="#922f3c" fill-opacity="0.75" shape-rendering="crispEdges"/>
<rect x="461" y="357.00" width="1" height="3.80" fill="#922f3c" fill-opacity="0.52" shape-rendering="crispEdges"/>
<rect x="462" y="357.00" width="1" height="3.80" fill="#922f3c" fill-opacity="0.55" shape-rendering="crispEdges"/>
<rect x="463" y="357.00" width="1" height="3.80" fill="#922f3c" fill-opacity="0.44" shape-rendering="crispEdges"/>
<rect x="464" y="357.00" width="1" height="3.80" fill="#922f3c" fill-opacity="0.18" shape-rendering="crispEdges"/>
<rect x="465" y="357.00" width="1" height="3.80" fill="#922f3c" fill-opacity="0.81" shape-rendering="crispEdges"/>
<rect x="466" y="357.00" width="1" height="3.80" fill="#922f3c" fill-opacity="0.79" shape-rendering="crispEdges"/>
<rect x="467" y="357.00" width="1" height="3.80" fill="#922f3c" fill-opacity="0.70" shape-rendering="crispEdges"/>
<rect x="468" y="357.00" width="1" height="3.80" fill="#922f3c" fill-opacity="0.71" shape-rendering="crispEdges"/>
<rect x="469" y="357.00" width="1" height="3.80" fill="#922f3c" fill-opacity="0.76" shape-rendering="crispEdges"/>
<rect x="470" y="357.00" width="1" height="3.80" fill="#922f3c" fill-opacity="0.54" shape-rendering="crispEdges"/>
<rect x="471" y="357.00" width="1" height="3.80" fill="#922f3c" fill-opacity="0.79" shape-rendering="crispEdges"/>
<rect x="472" y="357.00" width="1" height="3.80" fill="#922f3c" fill-opacity="0.42" shape-rendering="crispEdges"/>
<rect x="473" y="357.00" width="1" height="3.80" fill="#922f3c" fill-opacity="0.32" shape-rendering="crispEdges"/>
<rect x="474" y="357.00" width="1" height="3.80" fill="#922f3c" fill-opacity="0.42" shape-rendering="crispEdges"/>
<rect x="475" y="357.00" width="1" height="3.80" fill="#922f3c" fill-opacity="0.67" shape-rendering="crispEdges"/>
<rect x="476" y="357.00" width="1" height="3.80" fill="#922f3c" fill-opacity="0.39" shape-rendering="crispEdges"/>
<rect x="477" y="357.00" width="1" height="3.80" fill="#922f3c" fill-opacity="0.68" shape-rendering="crispEdges"/>
<rect x="478" y="357.00" width="1" height="3.80" fill="#922f3c" fill-opacity="0.81" shape-rendering="crispEdges"/>
<rect x="479" y="357.00" width="1" height="3.80" fill="#922f3c" fill-opacity="0.55" shape-rendering="crispEdges"/>
<rect x="480" y="357.00" width="1" height="3.80" fill="#922f3c" fill-opacity="0.34" shape-rendering="crispEdges"/>
<rect x="481" y="357.00" width="1" height="3.80" fill="#922f3c" fill-opacity="0.39" shape-rendering="crispEdges"/>
<rect x="482" y="357.00" width="1" height="3.80" fill="#922f3c" fill-opacity="0.61" shape-rendering="crispEdges"/>
<rect x="483" y="357.00" width="1" height="3.80" fill="#922f3c" fill-opacity="0.66" shape-rendering="crispEdges"/>
<rect x="484" y="357.00" width="1" height="3.80" fill="#922f3c" fill-opacity="0.57" shape-rendering="crispEdges"/>
<rect x="485" y="357.00" width="1" height="3.80" fill="#922f3c" fill-opacity="0.59" shape-rendering="crispEdges"/>
<rect x="486" y="357.00" width="1" height="3.80" fill="#922f3c" fill-opacity="0.25" shape-rendering="crispEdges"/>
<rect x="487" y="357.00" width="1" height="3.80" fill="#922f3c" fill-opacity="0.29" shape-rendering="crispEdges"/>
<rect x="488" y="357.00" width="1" height="3.80" fill="#922f3c" fill-opacity="0.35" shape-rendering="crispEdges"/>
<rect x="489" y="357.00" width="1" height="3.80" fill="#922f3c" fill-opacity="0.65" shape-rendering="crispEdges"/>
<rect x="490" y="357.00" width="1" height="3.80" fill="#922f3c" fill-opacity="0.38" shape-rendering="crispEdges"/>
<rect x="491" y="357.00" width="1" height="3.80" fill="#922f3c" fill-opacity="0.54" shape-rendering="crispEdges"/>
<rect x="492" y="357.00" width="1" height="3.80" fill="#922f3c" fill-opacity="0.21" shape-rendering="crispEdges"/>
<rect x="493" y="357.00" width="1" height="3.80" fill="#922f3c" fill-opacity="0.24" shape-rendering="crispEdges"/>
<rect x="494" y="357.00" width="1" height="3.80" fill="#922f3c" fill-opacity="0.36" shape-rendering="crispEdges"/>
<rect x="495" y="357.00" width="1" height="3.80" fill="#922f3c" fill-opacity="0.60" shape-rendering="crispEdges"/>
<rect x="496" y="357.00" width="1" height="3.80" fill="#922f3c" fill-opacity="0.62" shape-rendering="crispEdges"/>
<rect x="497" y="357.00" width="1" height="3.80" fill="#922f3c" fill-opacity="0.68" shape-rendering="crispEdges"/>
<rect x="498" y="357.00" width="1" height="3.80" fill="#922f3c" fill-opacity="0.50" shape-rendering="crispEdges"/>
<rect x="499" y="357.00" width="1" height="3.80" fill="#922f3c" fill-opacity="0.61" shape-rendering="crispEdges"/>
<rect x="500" y="357.00" width="2" height="3.80" fill="#922f3c" fill-opacity="0.58" shape-rendering="crispEdges"/>
<rect x="502" y="357.00" width="1" height="3.80" fill="#922f3c" fill-opacity="0.42" shape-rendering="crispEdges"/>
<rect x="503" y="357.00" width="1" height="3.80" fill="#922f3c" fill-opacity="0.79" shape-rendering="crispEdges"/>
<rect x="504" y="357.00" width="1" height="3.80" fill="#922f3c" fill-opacity="0.46" shape-rendering="crispEdges"/>
<rect x="505" y="357.00" width="1" height="3.80" fill="#922f3c" fill-opacity="0.83" shape-rendering="crispEdges"/>
<rect x="506" y="357.00" width="1" height="3.80" fill="#922f3c" fill-opacity="0.76" shape-rendering="crispEdges"/>
<rect x="507" y="357.00" width="1" height="3.80" fill="#922f3c" fill-opacity="0.21" shape-rendering="crispEdges"/>
<rect x="508" y="357.00" width="1" height="3.80" fill="#922f3c" fill-opacity="0.48" shape-rendering="crispEdges"/>
<rect x="509" y="357.00" width="1" height="3.80" fill="#922f3c" fill-opacity="0.55" shape-rendering="crispEdges"/>
<rect x="510" y="357.00" width="1" height="3.80" fill="#922f3c" fill-opacity="0.62" shape-rendering="crispEdges"/>
<rect x="511" y="357.00" width="1" height="3.80" fill="#922f3c" fill-opacity="0.52" shape-rendering="crispEdges"/>
<rect x="512" y="357.00" width="1" height="3.80" fill="#922f3c" fill-opacity="0.43" shape-rendering="crispEdges"/>
<rect x="513" y="357.00" width="1" height="3.80" fill="#922f3c" fill-opacity="0.20" shape-rendering="crispEdges"/>
<rect x="514" y="357.00" width="1" height="3.80" fill="#922f3c" fill-opacity="0.46" shape-rendering="crispEdges"/>
<rect x="515" y="357.00" width="1" height="3.80" fill="#922f3c" fill-opacity="0.33" shape-rendering="crispEdges"/>
<rect x="516" y="357.00" width="1" height="3.80" fill="#922f3c" fill-opacity="0.55" shape-rendering="crispEdges"/>
<rect x="517" y="357.00" width="1" height="3.80" fill="#922f3c" fill-opacity="0.29" shape-rendering="crispEdges"/>
<rect x="518" y="357.00" width="1" height="3.80" fill="#922f3c" fill-opacity="0.51" shape-rendering="crispEdges"/>
<rect x="519" y="357.00" width="1" height="3.80" fill="#922f3c" fill-opacity="0.77" shape-rendering="crispEdges"/>
<rect x="520" y="357.00" width="1" height="3.80" fill="#922f3c" fill-opacity="0.28" shape-rendering="crispEdges"/>
<rect x="521" y="357.00" width="1" height="3.80" fill="#922f3c" fill-opacity="0.48" shape-rendering="crispEdges"/>
<rect x="522" y="357.00" width="1" height="3.80" fill="#922f3c" fill-opacity="0.35" shape-rendering="crispEdges"/>
<rect x="523" y="357.00" width="1" height="3.80" fill="#922f3c" fill-opacity="0.51" shape-rendering="crispEdges"/>
<rect x="524" y="357.00" width="1" height="3.80" fill="#922f3c" fill-opacity="0.44" shape-rendering="crispEdges"/>
<rect x="525" y="357.00" width="1" height="3.80" fill="#922f3c" fill-opacity="0.24" shape-rendering="crispEdges"/>
<rect x="526" y="357.00" width="1" height="3.80" fill="#922f3c" fill-opacity="0.52" shape-rendering="crispEdges"/>
<rect x="527" y="357.00" width="1" height="3.80" fill="#922f3c" fill-opacity="0.34" shape-rendering="crispEdges"/>
<rect x="528" y="357.00" width="1" height="3.80" fill="#922f3c" fill-opacity="0.45" shape-rendering="crispEdges"/>
<rect x="529" y="357.00" width="1" height="3.80" fill="#922f3c" fill-opacity="0.44" shape-rendering="crispEdges"/>
<rect x="530" y="357.00" width="1" height="3.80" fill="#922f3c" fill-opacity="0.65" shape-rendering="crispEdges"/>
<rect x="531" y="357.00" width="1" height="3.80" fill="#922f3c" fill-opacity="0.63" shape-rendering="crispEdges"/>
<rect x="532" y="357.00" width="1" height="3.80" fill="#922f3c" fill-opacity="0.57" shape-rendering="crispEdges"/>
<rect x="533" y="357.00" width="1" height="3.80" fill="#922f3c" fill-opacity="0.50" shape-rendering="crispEdges"/>
<rect x="534" y="357.00" width="1" height="3.80" fill="#922f3c" fill-opacity="0.58" shape-rendering="crispEdges"/>
<rect x="535" y="357.00" width="1" height="3.80" fill="#922f3c" fill-opacity="0.57" shape-rendering="crispEdges"/>
<rect x="536" y="357.00" width="1" height="3.80" fill="#922f3c" fill-opacity="0.79" shape-rendering="crispEdges"/>
<rect x="537" y="357.00" width="1" height="3.80" fill="#922f3c" fill-opacity="0.44" shape-rendering="crispEdges"/>
<rect x="538" y="357.00" width="1" height="3.80" fill="#922f3c" fill-opacity="0.90" shape-rendering="crispEdges"/>
<rect x="539" y="357.00" width="1" height="3.80" fill="#922f3c" fill-opacity="0.91" shape-rendering="crispEdges"/>
<rect x="540" y="357.00" width="1" height="3.80" fill="#922f3c" fill-opacity="0.78" shape-rendering="crispEdges"/>
<rect x="541" y="357.00" width="1" height="3.80" fill="#922f3c" fill-opacity="0.93" shape-rendering="crispEdges"/>
<rect x="542" y="357.00" width="1" height="3.80" fill="#922f3c" fill-opacity="0.89" shape-rendering="crispEdges"/>
<text transform="translate(542.70,355.70) scale(1,1.12)" font-size="6.1" text-anchor="middle" fill="#222">1</text>
<text transform="translate(542.70,362.70) scale(1,1.12)" font-size="6.1" text-anchor="middle" fill="#222">0</text>
<line x1="408.80" y1="350.60" x2="542.20" y2="227.20" stroke="#55698a" stroke-width="0.9" stroke-dasharray="2.0 1.4"/>
<polyline points="408.80,350.60 419.74,340.85 429.74,332.83 439.62,326.04 448.15,320.49 454.96,316.54 457.49,315.06 462.16,313.21 466.30,311.73 469.50,310.99 472.43,310.12 475.90,308.64 479.37,307.41 483.50,306.30 488.17,305.19 500.05,302.10 509.52,299.88 541.93,291.00" fill="none" stroke="#4ea1f6" stroke-width="1.15" stroke-linejoin="round"/>
<circle cx="409.10" cy="350.00" r="1.5" fill="none" stroke="#1a7a2a" stroke-width="0.85"/>
<circle cx="410.57" cy="348.69" r="1.5" fill="none" stroke="#1a7a2a" stroke-width="0.85"/>
<line x1="405.40" y1="223.00" x2="405.40" y2="364.50" stroke="#999" stroke-width="1.0"/>
<line x1="404.90" y1="364.50" x2="546.80" y2="364.50" stroke="#999" stroke-width="1.0"/>
<line x1="402.80" y1="350.50" x2="405.40" y2="350.50" stroke="#909090" stroke-width="0.8"/>
<text transform="translate(401.20,350.50) rotate(-90) scale(1,1.12)" font-size="6.1" text-anchor="middle" fill="#222">0</text>
<line x1="402.80" y1="326.50" x2="405.40" y2="326.50" stroke="#909090" stroke-width="0.8"/>
<text transform="translate(401.20,326.50) rotate(-90) scale(1,1.12)" font-size="6.1" text-anchor="middle" fill="#222">.2</text>
<line x1="402.80" y1="301.50" x2="405.40" y2="301.50" stroke="#909090" stroke-width="0.8"/>
<text transform="translate(401.20,301.50) rotate(-90) scale(1,1.12)" font-size="6.1" text-anchor="middle" fill="#222">.4</text>
<line x1="402.80" y1="276.50" x2="405.40" y2="276.50" stroke="#909090" stroke-width="0.8"/>
<text transform="translate(401.20,276.50) rotate(-90) scale(1,1.12)" font-size="6.1" text-anchor="middle" fill="#222">.6</text>
<line x1="402.80" y1="251.50" x2="405.40" y2="251.50" stroke="#909090" stroke-width="0.8"/>
<text transform="translate(401.20,251.50) rotate(-90) scale(1,1.12)" font-size="6.1" text-anchor="middle" fill="#222">.8</text>
<line x1="402.80" y1="226.50" x2="405.40" y2="226.50" stroke="#909090" stroke-width="0.8"/>
<text transform="translate(401.20,226.50) rotate(-90) scale(1,1.12)" font-size="6.1" text-anchor="middle" fill="#222">1</text>
<line x1="408.80" y1="364.50" x2="408.80" y2="366.40" stroke="#909090" stroke-width="0.8"/>
<text transform="translate(408.80,374.00) scale(1,1.12)" font-size="6.1" text-anchor="middle" fill="#222">0</text>
<line x1="435.48" y1="364.50" x2="435.48" y2="366.40" stroke="#909090" stroke-width="0.8"/>
<text transform="translate(435.48,374.00) scale(1,1.12)" font-size="6.1" text-anchor="middle" fill="#222">.2</text>
<line x1="462.16" y1="364.50" x2="462.16" y2="366.40" stroke="#909090" stroke-width="0.8"/>
<text transform="translate(462.16,374.00) scale(1,1.12)" font-size="6.1" text-anchor="middle" fill="#222">.4</text>
<line x1="488.84" y1="364.50" x2="488.84" y2="366.40" stroke="#909090" stroke-width="0.8"/>
<text transform="translate(488.84,374.00) scale(1,1.12)" font-size="6.1" text-anchor="middle" fill="#222">.6</text>
<line x1="515.52" y1="364.50" x2="515.52" y2="366.40" stroke="#909090" stroke-width="0.8"/>
<text transform="translate(515.52,374.00) scale(1,1.12)" font-size="6.1" text-anchor="middle" fill="#222">.8</text>
<line x1="542.20" y1="364.50" x2="542.20" y2="366.40" stroke="#909090" stroke-width="0.8"/>
<text transform="translate(542.20,374.00) scale(1,1.12)" font-size="6.1" text-anchor="middle" fill="#222">1</text>
<text transform="translate(475.80,379.60) scale(0.88,1)" font-size="6.6" text-anchor="middle" fill="#222">Expected</text>
<text transform="translate(394.20,294.15) rotate(-90) scale(0.9,1)" font-size="6.5" text-anchor="middle" fill="#222">Observed</text>
<text x="408.90" y="231.30" font-size="4.85" fill="#333">E:O = 1.027</text>
<text x="408.90" y="236.00" font-size="4.85" fill="#333">CITL = -0.030</text>
<text x="408.90" y="240.70" font-size="4.85" fill="#333">Slope = 0.997</text>
<text x="408.90" y="245.40" font-size="4.85" fill="#333">AUC = 0.890</text>
<text transform="translate(392.50,217.00) scale(1.05,1)" font-size="11.5" fill="#333">(e)</text>
<rect x="548.90" y="276.60" width="55.10" height="34.80" fill="#fff" stroke="#8a8a8a" stroke-width="0.8"/>
<line x1="551.40" y1="282.30" x2="573.80" y2="282.30" stroke="#6a80a0" stroke-width="0.8" stroke-dasharray="2 1.2"/>
<circle cx="562.60" cy="289.90" r="1.65" fill="none" stroke="#2e8b3a" stroke-width="0.9"/>
<line x1="551.40" y1="297.50" x2="573.80" y2="297.50" stroke="#6e9a5a" stroke-width="0.8"/>
<line x1="551.40" y1="305.80" x2="573.80" y2="305.80" stroke="#b3d5f9" stroke-width="1.8"/>
<text x="578.60" y="284.20" font-size="4.75" fill="#333">Reference</text>
<text x="578.60" y="291.80" font-size="4.75" fill="#333">Groups</text>
<text x="578.60" y="299.40" font-size="4.75" fill="#333">95% CIs</text>
<text x="578.60" y="307.70" font-size="4.75" fill="#333">Lowess</text>
</svg>
</body></html>
